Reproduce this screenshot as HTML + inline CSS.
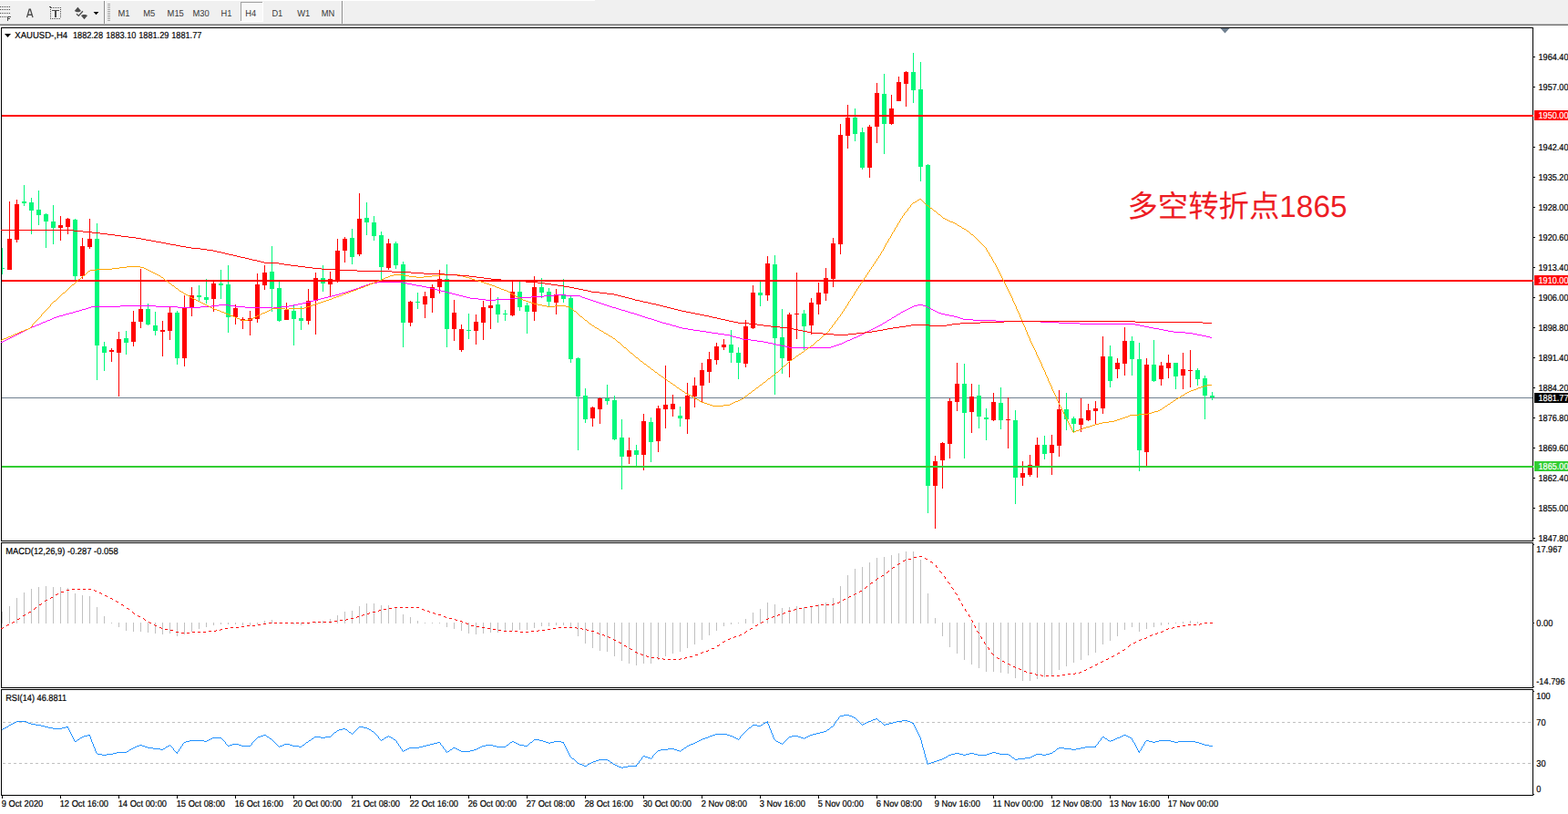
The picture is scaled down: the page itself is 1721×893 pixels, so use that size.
<!DOCTYPE html><html><head><meta charset="utf-8"><title>XAUUSD H4</title>
<style>html,body{margin:0;padding:0;background:#fff;overflow:hidden}svg{display:block}text{font-family:"Liberation Sans",sans-serif;text-rendering:geometricPrecision}</style></head><body>
<svg width="1721" height="893" viewBox="0 0 1721 893">
<rect width="1721" height="893" fill="#fff"/>
<g id="toolbar">
<rect x="0" y="0" width="1721" height="26" fill="#f0f0f0"/>
<rect x="0" y="0" width="653" height="1" fill="#ffffff"/>
<rect x="0" y="26" width="1721" height="1" fill="#b4b4b4"/>
<rect x="0" y="27" width="1721" height="1" fill="#6e6e6e"/>
<g shape-rendering="crispEdges">
<rect x="0" y="7" width="1" height="1" fill="#4d4d4d"/>
<rect x="2" y="7" width="1" height="1" fill="#4d4d4d"/>
<rect x="4" y="7" width="1" height="1" fill="#4d4d4d"/>
<rect x="6" y="7" width="1" height="1" fill="#4d4d4d"/>
<rect x="8" y="7" width="1" height="1" fill="#4d4d4d"/>
<rect x="10" y="7" width="1" height="1" fill="#4d4d4d"/>
<rect x="0" y="10" width="1" height="1" fill="#4d4d4d"/>
<rect x="2" y="10" width="1" height="1" fill="#4d4d4d"/>
<rect x="4" y="10" width="1" height="1" fill="#4d4d4d"/>
<rect x="6" y="10" width="1" height="1" fill="#4d4d4d"/>
<rect x="8" y="10" width="1" height="1" fill="#4d4d4d"/>
<rect x="10" y="10" width="1" height="1" fill="#4d4d4d"/>
<rect x="0" y="14" width="1" height="1" fill="#4d4d4d"/>
<rect x="2" y="14" width="1" height="1" fill="#4d4d4d"/>
<rect x="4" y="14" width="1" height="1" fill="#4d4d4d"/>
<rect x="6" y="14" width="1" height="1" fill="#4d4d4d"/>
<rect x="8" y="14" width="1" height="1" fill="#4d4d4d"/>
<rect x="10" y="14" width="1" height="1" fill="#4d4d4d"/>
<rect x="0" y="18" width="1" height="1" fill="#4d4d4d"/>
<rect x="2" y="18" width="1" height="1" fill="#4d4d4d"/>
<rect x="4" y="18" width="1" height="1" fill="#4d4d4d"/>
<rect x="6" y="18" width="1" height="1" fill="#4d4d4d"/>
<path d="M8 18h4v1h-3v1h2v1h-2v2h-1z" fill="#4d4d4d"/>
<rect x="58" y="8" width="1" height="1" fill="#4d4d4d"/>
<rect x="60" y="8" width="1" height="1" fill="#4d4d4d"/>
<rect x="62" y="8" width="1" height="1" fill="#4d4d4d"/>
<rect x="64" y="8" width="1" height="1" fill="#4d4d4d"/>
<rect x="66" y="8" width="1" height="1" fill="#4d4d4d"/>
<rect x="55" y="20" width="1" height="1" fill="#4d4d4d"/>
<rect x="57" y="20" width="1" height="1" fill="#4d4d4d"/>
<rect x="59" y="20" width="1" height="1" fill="#4d4d4d"/>
<rect x="61" y="20" width="1" height="1" fill="#4d4d4d"/>
<rect x="63" y="20" width="1" height="1" fill="#4d4d4d"/>
<rect x="65" y="20" width="1" height="1" fill="#4d4d4d"/>
<rect x="55" y="10" width="1" height="1" fill="#4d4d4d"/>
<rect x="66" y="10" width="1" height="1" fill="#4d4d4d"/>
<rect x="55" y="12" width="1" height="1" fill="#4d4d4d"/>
<rect x="66" y="12" width="1" height="1" fill="#4d4d4d"/>
<rect x="55" y="14" width="1" height="1" fill="#4d4d4d"/>
<rect x="66" y="14" width="1" height="1" fill="#4d4d4d"/>
<rect x="55" y="16" width="1" height="1" fill="#4d4d4d"/>
<rect x="66" y="16" width="1" height="1" fill="#4d4d4d"/>
<rect x="55" y="18" width="1" height="1" fill="#4d4d4d"/>
<rect x="66" y="18" width="1" height="1" fill="#4d4d4d"/>
<rect x="54" y="7" width="2" height="1" fill="#4d4d4d"/>
<rect x="55" y="8" width="2" height="1" fill="#4d4d4d"/>
<path d="M57 11h8v1h-3v7h-2v-7h-3z" fill="#4d4d4d"/>
<rect x="118" y="4" width="3" height="1" fill="#a6a6a6"/>
<rect x="118" y="6" width="3" height="1" fill="#a6a6a6"/>
<rect x="118" y="8" width="3" height="1" fill="#a6a6a6"/>
<rect x="118" y="10" width="3" height="1" fill="#a6a6a6"/>
<rect x="118" y="12" width="3" height="1" fill="#a6a6a6"/>
<rect x="118" y="14" width="3" height="1" fill="#a6a6a6"/>
<rect x="118" y="16" width="3" height="1" fill="#a6a6a6"/>
<rect x="118" y="18" width="3" height="1" fill="#a6a6a6"/>
<rect x="118" y="20" width="3" height="1" fill="#a6a6a6"/>
<rect x="118" y="22" width="3" height="1" fill="#a6a6a6"/>
<rect x="114" y="1" width="1" height="25" fill="#8e8e8e"/>
<rect x="115" y="1" width="1" height="25" fill="#fafafa"/>
<rect x="375" y="1" width="1" height="25" fill="#8e8e8e"/>
<rect x="376" y="1" width="1" height="25" fill="#fafafa"/>
<rect x="264" y="2" width="25" height="22" fill="#f8f8f8"/>
<rect x="264" y="2" width="25" height="1" fill="#a0a0a0"/>
<rect x="264" y="2" width="1" height="22" fill="#a0a0a0"/>
<rect x="264" y="23" width="25" height="1" fill="#ffffff"/>
<rect x="288" y="2" width="1" height="22" fill="#ffffff"/>
</g>
<path d="M29.5 19.1L32.2 10.2h1.1L36 19.1M30.7 16.2H34.8" fill="none" stroke="#4d4d4d" stroke-width="1.35" stroke-linejoin="miter"/>
<path d="M85.4 7.8L89 12 86.8 13.2h-2.8L81.8 12z" fill="#4d4d4d"/>
<path d="M92.5 21.2L96.1 17 93.9 15.9h-2.8L88.9 17z" fill="#4d4d4d"/>
<path d="M84 15.3L86.3 17.4 90.9 12.2" fill="none" stroke="#4d4d4d" stroke-width="1.3"/>
<path d="M102.6 13h5.8l-2.9 3.2z" fill="#000"/>
<g>
<text x="129.4" y="18" font-size="10.2" textLength="13.0" lengthAdjust="spacingAndGlyphs" fill="#383838" >M1</text>
<text x="157.2" y="18" font-size="10.2" textLength="13.0" lengthAdjust="spacingAndGlyphs" fill="#383838" >M5</text>
<text x="183.6" y="18" font-size="10.2" textLength="18.2" lengthAdjust="spacingAndGlyphs" fill="#383838" >M15</text>
<text x="211.5" y="18" font-size="10.2" textLength="18.2" lengthAdjust="spacingAndGlyphs" fill="#383838" >M30</text>
<text x="242.6" y="18" font-size="10.2" textLength="11.9" lengthAdjust="spacingAndGlyphs" fill="#383838" >H1</text>
<text x="269.3" y="18" font-size="10.2" textLength="11.9" lengthAdjust="spacingAndGlyphs" fill="#383838" >H4</text>
<text x="298.4" y="18" font-size="10.2" textLength="11.9" lengthAdjust="spacingAndGlyphs" fill="#383838" >D1</text>
<text x="326.2" y="18" font-size="10.2" textLength="14.0" lengthAdjust="spacingAndGlyphs" fill="#383838" >W1</text>
<text x="352.7" y="18" font-size="10.2" textLength="14.5" lengthAdjust="spacingAndGlyphs" fill="#383838" >MN</text>
</g>
</g>
<g id="frames" shape-rendering="crispEdges" fill="#000">
<rect x="1" y="30" width="1682" height="1"/>
<rect x="1" y="30" width="1" height="843"/>
<rect x="1682" y="30" width="1" height="843"/>
<rect x="1" y="593" width="1682" height="1"/>
<rect x="1" y="595" width="1682" height="1"/>
<rect x="1" y="754" width="1682" height="1"/>
<rect x="1" y="756" width="1682" height="1"/>
<rect x="1" y="872" width="1682" height="1"/>
<rect x="1" y="594" width="1683" height="1" fill="#fff"/>
<rect x="1" y="755" width="1683" height="1" fill="#fff"/>
</g>
<g id="main">
<rect x="2" y="436" width="1680" height="1" fill="#708090" shape-rendering="crispEdges"/>
<g shape-rendering="crispEdges">
<rect x="2" y="272" width="1" height="29" fill="#00f87a"/>
<rect x="2" y="294" width="3" height="1" fill="#00f87a"/>
<rect x="10" y="221" width="1" height="75" fill="#ff0000"/>
<rect x="8" y="262" width="5" height="34" fill="#ff0000"/>
<rect x="18" y="219" width="1" height="47" fill="#ff0000"/>
<rect x="16" y="224" width="5" height="39" fill="#ff0000"/>
<rect x="26" y="203" width="1" height="23" fill="#00f87a"/>
<rect x="24" y="221" width="5" height="2" fill="#00f87a"/>
<rect x="34" y="217" width="1" height="40" fill="#00f87a"/>
<rect x="32" y="222" width="5" height="9" fill="#00f87a"/>
<rect x="42" y="209" width="1" height="38" fill="#00f87a"/>
<rect x="40" y="230" width="5" height="6" fill="#00f87a"/>
<rect x="50" y="234" width="1" height="38" fill="#00f87a"/>
<rect x="48" y="235" width="5" height="8" fill="#00f87a"/>
<rect x="58" y="225" width="1" height="43" fill="#00f87a"/>
<rect x="56" y="243" width="5" height="7" fill="#00f87a"/>
<rect x="66" y="237" width="1" height="27" fill="#ff0000"/>
<rect x="64" y="247" width="5" height="3" fill="#ff0000"/>
<rect x="74" y="239" width="1" height="18" fill="#ff0000"/>
<rect x="72" y="240" width="5" height="9" fill="#ff0000"/>
<rect x="82" y="240" width="1" height="67" fill="#00f87a"/>
<rect x="80" y="241" width="5" height="62" fill="#00f87a"/>
<rect x="90" y="261" width="1" height="45" fill="#ff0000"/>
<rect x="88" y="270" width="5" height="33" fill="#ff0000"/>
<rect x="98" y="240" width="1" height="33" fill="#ff0000"/>
<rect x="96" y="262" width="5" height="9" fill="#ff0000"/>
<rect x="106" y="245" width="1" height="172" fill="#00f87a"/>
<rect x="104" y="262" width="5" height="117" fill="#00f87a"/>
<rect x="114" y="375" width="1" height="32" fill="#00f87a"/>
<rect x="112" y="380" width="5" height="7" fill="#00f87a"/>
<rect x="122" y="382" width="1" height="15" fill="#ff0000"/>
<rect x="120" y="384" width="5" height="2" fill="#ff0000"/>
<rect x="130" y="364" width="1" height="71" fill="#ff0000"/>
<rect x="128" y="372" width="5" height="15" fill="#ff0000"/>
<rect x="138" y="363" width="1" height="26" fill="#00f87a"/>
<rect x="136" y="371" width="5" height="5" fill="#00f87a"/>
<rect x="146" y="341" width="1" height="39" fill="#ff0000"/>
<rect x="144" y="353" width="5" height="22" fill="#ff0000"/>
<rect x="154" y="295" width="1" height="65" fill="#ff0000"/>
<rect x="152" y="339" width="5" height="14" fill="#ff0000"/>
<rect x="162" y="333" width="1" height="24" fill="#00f87a"/>
<rect x="160" y="339" width="5" height="17" fill="#00f87a"/>
<rect x="170" y="342" width="1" height="26" fill="#00f87a"/>
<rect x="168" y="357" width="5" height="6" fill="#00f87a"/>
<rect x="178" y="352" width="1" height="39" fill="#ff0000"/>
<rect x="176" y="362" width="5" height="2" fill="#ff0000"/>
<rect x="186" y="337" width="1" height="36" fill="#ff0000"/>
<rect x="184" y="343" width="5" height="20" fill="#ff0000"/>
<rect x="194" y="341" width="1" height="59" fill="#00f87a"/>
<rect x="192" y="343" width="5" height="50" fill="#00f87a"/>
<rect x="202" y="324" width="1" height="78" fill="#ff0000"/>
<rect x="200" y="338" width="5" height="55" fill="#ff0000"/>
<rect x="210" y="315" width="1" height="32" fill="#ff0000"/>
<rect x="208" y="324" width="5" height="13" fill="#ff0000"/>
<rect x="218" y="313" width="1" height="17" fill="#00f87a"/>
<rect x="216" y="324" width="5" height="2" fill="#00f87a"/>
<rect x="226" y="306" width="1" height="27" fill="#00f87a"/>
<rect x="224" y="326" width="5" height="3" fill="#00f87a"/>
<rect x="234" y="309" width="1" height="33" fill="#ff0000"/>
<rect x="232" y="311" width="5" height="17" fill="#ff0000"/>
<rect x="242" y="296" width="1" height="32" fill="#00f87a"/>
<rect x="240" y="311" width="5" height="2" fill="#00f87a"/>
<rect x="250" y="291" width="1" height="74" fill="#00f87a"/>
<rect x="248" y="312" width="5" height="36" fill="#00f87a"/>
<rect x="258" y="334" width="1" height="22" fill="#ff0000"/>
<rect x="256" y="338" width="5" height="10" fill="#ff0000"/>
<rect x="266" y="348" width="1" height="13" fill="#ff0000"/>
<rect x="264" y="350" width="5" height="2" fill="#ff0000"/>
<rect x="274" y="341" width="1" height="27" fill="#ff0000"/>
<rect x="272" y="349" width="5" height="3" fill="#ff0000"/>
<rect x="282" y="300" width="1" height="54" fill="#ff0000"/>
<rect x="280" y="312" width="5" height="38" fill="#ff0000"/>
<rect x="290" y="291" width="1" height="27" fill="#ff0000"/>
<rect x="288" y="299" width="5" height="14" fill="#ff0000"/>
<rect x="298" y="270" width="1" height="72" fill="#00f87a"/>
<rect x="296" y="298" width="5" height="19" fill="#00f87a"/>
<rect x="306" y="309" width="1" height="44" fill="#00f87a"/>
<rect x="304" y="316" width="5" height="36" fill="#00f87a"/>
<rect x="314" y="332" width="1" height="19" fill="#ff0000"/>
<rect x="312" y="340" width="5" height="11" fill="#ff0000"/>
<rect x="322" y="335" width="1" height="44" fill="#00f87a"/>
<rect x="320" y="341" width="5" height="9" fill="#00f87a"/>
<rect x="330" y="336" width="1" height="26" fill="#00f87a"/>
<rect x="328" y="349" width="5" height="3" fill="#00f87a"/>
<rect x="338" y="317" width="1" height="39" fill="#ff0000"/>
<rect x="336" y="330" width="5" height="22" fill="#ff0000"/>
<rect x="346" y="299" width="1" height="68" fill="#ff0000"/>
<rect x="344" y="305" width="5" height="25" fill="#ff0000"/>
<rect x="354" y="291" width="1" height="29" fill="#00f87a"/>
<rect x="352" y="305" width="5" height="6" fill="#00f87a"/>
<rect x="362" y="298" width="1" height="27" fill="#ff0000"/>
<rect x="360" y="306" width="5" height="6" fill="#ff0000"/>
<rect x="370" y="262" width="1" height="48" fill="#ff0000"/>
<rect x="368" y="275" width="5" height="34" fill="#ff0000"/>
<rect x="378" y="260" width="1" height="28" fill="#ff0000"/>
<rect x="376" y="262" width="5" height="13" fill="#ff0000"/>
<rect x="386" y="251" width="1" height="39" fill="#00f87a"/>
<rect x="384" y="261" width="5" height="21" fill="#00f87a"/>
<rect x="394" y="212" width="1" height="69" fill="#ff0000"/>
<rect x="392" y="240" width="5" height="39" fill="#ff0000"/>
<rect x="402" y="222" width="1" height="36" fill="#00f87a"/>
<rect x="400" y="239" width="5" height="5" fill="#00f87a"/>
<rect x="410" y="237" width="1" height="27" fill="#00f87a"/>
<rect x="408" y="244" width="5" height="15" fill="#00f87a"/>
<rect x="418" y="254" width="1" height="54" fill="#00f87a"/>
<rect x="416" y="258" width="5" height="35" fill="#00f87a"/>
<rect x="426" y="262" width="1" height="34" fill="#ff0000"/>
<rect x="424" y="267" width="5" height="27" fill="#ff0000"/>
<rect x="434" y="265" width="1" height="30" fill="#00f87a"/>
<rect x="432" y="267" width="5" height="24" fill="#00f87a"/>
<rect x="442" y="287" width="1" height="94" fill="#00f87a"/>
<rect x="440" y="290" width="5" height="64" fill="#00f87a"/>
<rect x="450" y="330" width="1" height="28" fill="#ff0000"/>
<rect x="448" y="331" width="5" height="23" fill="#ff0000"/>
<rect x="458" y="321" width="1" height="18" fill="#00f87a"/>
<rect x="456" y="331" width="5" height="1" fill="#00f87a"/>
<rect x="466" y="320" width="1" height="29" fill="#ff0000"/>
<rect x="464" y="325" width="5" height="9" fill="#ff0000"/>
<rect x="474" y="312" width="1" height="31" fill="#ff0000"/>
<rect x="472" y="315" width="5" height="12" fill="#ff0000"/>
<rect x="482" y="296" width="1" height="26" fill="#ff0000"/>
<rect x="480" y="306" width="5" height="9" fill="#ff0000"/>
<rect x="490" y="290" width="1" height="91" fill="#00f87a"/>
<rect x="488" y="306" width="5" height="55" fill="#00f87a"/>
<rect x="498" y="329" width="1" height="45" fill="#ff0000"/>
<rect x="496" y="343" width="5" height="18" fill="#ff0000"/>
<rect x="506" y="356" width="1" height="30" fill="#ff0000"/>
<rect x="504" y="361" width="5" height="23" fill="#ff0000"/>
<rect x="514" y="344" width="1" height="28" fill="#00f87a"/>
<rect x="512" y="362" width="5" height="1" fill="#00f87a"/>
<rect x="522" y="345" width="1" height="33" fill="#ff0000"/>
<rect x="520" y="353" width="5" height="10" fill="#ff0000"/>
<rect x="530" y="330" width="1" height="43" fill="#ff0000"/>
<rect x="528" y="337" width="5" height="17" fill="#ff0000"/>
<rect x="538" y="316" width="1" height="45" fill="#ff0000"/>
<rect x="536" y="335" width="5" height="3" fill="#ff0000"/>
<rect x="546" y="326" width="1" height="28" fill="#00f87a"/>
<rect x="544" y="334" width="5" height="11" fill="#00f87a"/>
<rect x="554" y="340" width="1" height="12" fill="#00f87a"/>
<rect x="552" y="344" width="5" height="1" fill="#00f87a"/>
<rect x="562" y="308" width="1" height="39" fill="#ff0000"/>
<rect x="560" y="320" width="5" height="26" fill="#ff0000"/>
<rect x="570" y="309" width="1" height="32" fill="#00f87a"/>
<rect x="568" y="320" width="5" height="17" fill="#00f87a"/>
<rect x="578" y="332" width="1" height="34" fill="#00f87a"/>
<rect x="576" y="335" width="5" height="7" fill="#00f87a"/>
<rect x="586" y="303" width="1" height="49" fill="#ff0000"/>
<rect x="584" y="315" width="5" height="27" fill="#ff0000"/>
<rect x="594" y="305" width="1" height="22" fill="#00f87a"/>
<rect x="592" y="315" width="5" height="6" fill="#00f87a"/>
<rect x="602" y="316" width="1" height="21" fill="#00f87a"/>
<rect x="600" y="320" width="5" height="11" fill="#00f87a"/>
<rect x="610" y="317" width="1" height="28" fill="#ff0000"/>
<rect x="608" y="323" width="5" height="9" fill="#ff0000"/>
<rect x="618" y="306" width="1" height="26" fill="#00f87a"/>
<rect x="616" y="323" width="5" height="5" fill="#00f87a"/>
<rect x="626" y="325" width="1" height="73" fill="#00f87a"/>
<rect x="624" y="327" width="5" height="67" fill="#00f87a"/>
<rect x="634" y="392" width="1" height="102" fill="#00f87a"/>
<rect x="632" y="393" width="5" height="42" fill="#00f87a"/>
<rect x="642" y="426" width="1" height="38" fill="#00f87a"/>
<rect x="640" y="434" width="5" height="26" fill="#00f87a"/>
<rect x="650" y="446" width="1" height="22" fill="#ff0000"/>
<rect x="648" y="447" width="5" height="12" fill="#ff0000"/>
<rect x="658" y="436" width="1" height="29" fill="#ff0000"/>
<rect x="656" y="437" width="5" height="12" fill="#ff0000"/>
<rect x="666" y="422" width="1" height="22" fill="#00f87a"/>
<rect x="664" y="437" width="5" height="3" fill="#00f87a"/>
<rect x="674" y="434" width="1" height="49" fill="#00f87a"/>
<rect x="672" y="439" width="5" height="43" fill="#00f87a"/>
<rect x="682" y="460" width="1" height="77" fill="#00f87a"/>
<rect x="680" y="480" width="5" height="21" fill="#00f87a"/>
<rect x="690" y="480" width="1" height="29" fill="#ff0000"/>
<rect x="688" y="494" width="5" height="7" fill="#ff0000"/>
<rect x="698" y="488" width="1" height="23" fill="#00f87a"/>
<rect x="696" y="494" width="5" height="5" fill="#00f87a"/>
<rect x="706" y="454" width="1" height="62" fill="#ff0000"/>
<rect x="704" y="462" width="5" height="37" fill="#ff0000"/>
<rect x="714" y="458" width="1" height="49" fill="#00f87a"/>
<rect x="712" y="463" width="5" height="22" fill="#00f87a"/>
<rect x="722" y="445" width="1" height="51" fill="#ff0000"/>
<rect x="720" y="448" width="5" height="36" fill="#ff0000"/>
<rect x="730" y="401" width="1" height="69" fill="#ff0000"/>
<rect x="728" y="444" width="5" height="5" fill="#ff0000"/>
<rect x="738" y="433" width="1" height="24" fill="#ff0000"/>
<rect x="736" y="443" width="5" height="6" fill="#ff0000"/>
<rect x="746" y="446" width="1" height="22" fill="#00f87a"/>
<rect x="744" y="456" width="5" height="3" fill="#00f87a"/>
<rect x="754" y="420" width="1" height="56" fill="#ff0000"/>
<rect x="752" y="434" width="5" height="26" fill="#ff0000"/>
<rect x="762" y="414" width="1" height="33" fill="#ff0000"/>
<rect x="760" y="423" width="5" height="12" fill="#ff0000"/>
<rect x="770" y="398" width="1" height="44" fill="#ff0000"/>
<rect x="768" y="406" width="5" height="17" fill="#ff0000"/>
<rect x="778" y="386" width="1" height="34" fill="#ff0000"/>
<rect x="776" y="394" width="5" height="14" fill="#ff0000"/>
<rect x="786" y="376" width="1" height="24" fill="#ff0000"/>
<rect x="784" y="380" width="5" height="15" fill="#ff0000"/>
<rect x="794" y="372" width="1" height="12" fill="#ff0000"/>
<rect x="792" y="378" width="5" height="3" fill="#ff0000"/>
<rect x="802" y="362" width="1" height="36" fill="#00f87a"/>
<rect x="800" y="378" width="5" height="9" fill="#00f87a"/>
<rect x="810" y="381" width="1" height="35" fill="#00f87a"/>
<rect x="808" y="387" width="5" height="11" fill="#00f87a"/>
<rect x="818" y="351" width="1" height="52" fill="#ff0000"/>
<rect x="816" y="358" width="5" height="41" fill="#ff0000"/>
<rect x="826" y="313" width="1" height="48" fill="#ff0000"/>
<rect x="824" y="321" width="5" height="39" fill="#ff0000"/>
<rect x="834" y="309" width="1" height="27" fill="#00f87a"/>
<rect x="832" y="321" width="5" height="3" fill="#00f87a"/>
<rect x="842" y="281" width="1" height="49" fill="#ff0000"/>
<rect x="840" y="289" width="5" height="35" fill="#ff0000"/>
<rect x="850" y="280" width="1" height="153" fill="#00f87a"/>
<rect x="848" y="290" width="5" height="81" fill="#00f87a"/>
<rect x="858" y="339" width="1" height="71" fill="#00f87a"/>
<rect x="856" y="370" width="5" height="23" fill="#00f87a"/>
<rect x="866" y="343" width="1" height="71" fill="#ff0000"/>
<rect x="864" y="345" width="5" height="51" fill="#ff0000"/>
<rect x="874" y="299" width="1" height="73" fill="#ff0000"/>
<rect x="872" y="344" width="5" height="1" fill="#ff0000"/>
<rect x="882" y="340" width="1" height="44" fill="#00f87a"/>
<rect x="880" y="344" width="5" height="14" fill="#00f87a"/>
<rect x="890" y="327" width="1" height="40" fill="#ff0000"/>
<rect x="888" y="332" width="5" height="25" fill="#ff0000"/>
<rect x="898" y="310" width="1" height="35" fill="#ff0000"/>
<rect x="896" y="321" width="5" height="13" fill="#ff0000"/>
<rect x="906" y="294" width="1" height="36" fill="#ff0000"/>
<rect x="904" y="305" width="5" height="17" fill="#ff0000"/>
<rect x="914" y="261" width="1" height="54" fill="#ff0000"/>
<rect x="912" y="267" width="5" height="39" fill="#ff0000"/>
<rect x="922" y="136" width="1" height="143" fill="#ff0000"/>
<rect x="920" y="148" width="5" height="120" fill="#ff0000"/>
<rect x="930" y="115" width="1" height="48" fill="#ff0000"/>
<rect x="928" y="129" width="5" height="20" fill="#ff0000"/>
<rect x="938" y="119" width="1" height="36" fill="#00f87a"/>
<rect x="936" y="129" width="5" height="18" fill="#00f87a"/>
<rect x="946" y="140" width="1" height="46" fill="#00f87a"/>
<rect x="944" y="145" width="5" height="39" fill="#00f87a"/>
<rect x="954" y="137" width="1" height="58" fill="#ff0000"/>
<rect x="952" y="139" width="5" height="45" fill="#ff0000"/>
<rect x="962" y="91" width="1" height="66" fill="#ff0000"/>
<rect x="960" y="102" width="5" height="37" fill="#ff0000"/>
<rect x="970" y="81" width="1" height="88" fill="#00f87a"/>
<rect x="968" y="103" width="5" height="33" fill="#00f87a"/>
<rect x="978" y="104" width="1" height="33" fill="#ff0000"/>
<rect x="976" y="119" width="5" height="17" fill="#ff0000"/>
<rect x="986" y="84" width="1" height="27" fill="#ff0000"/>
<rect x="984" y="90" width="5" height="21" fill="#ff0000"/>
<rect x="994" y="78" width="1" height="39" fill="#ff0000"/>
<rect x="992" y="79" width="5" height="13" fill="#ff0000"/>
<rect x="1002" y="58" width="1" height="55" fill="#00f87a"/>
<rect x="1000" y="79" width="5" height="20" fill="#00f87a"/>
<rect x="1010" y="68" width="1" height="131" fill="#00f87a"/>
<rect x="1008" y="98" width="5" height="85" fill="#00f87a"/>
<rect x="1018" y="180" width="1" height="383" fill="#00f87a"/>
<rect x="1016" y="181" width="5" height="352" fill="#00f87a"/>
<rect x="1026" y="500" width="1" height="80" fill="#ff0000"/>
<rect x="1024" y="506" width="5" height="27" fill="#ff0000"/>
<rect x="1034" y="485" width="1" height="51" fill="#ff0000"/>
<rect x="1032" y="486" width="5" height="19" fill="#ff0000"/>
<rect x="1042" y="437" width="1" height="66" fill="#ff0000"/>
<rect x="1040" y="440" width="5" height="47" fill="#ff0000"/>
<rect x="1050" y="398" width="1" height="53" fill="#ff0000"/>
<rect x="1048" y="421" width="5" height="20" fill="#ff0000"/>
<rect x="1058" y="399" width="1" height="104" fill="#00f87a"/>
<rect x="1056" y="421" width="5" height="32" fill="#00f87a"/>
<rect x="1066" y="421" width="1" height="54" fill="#ff0000"/>
<rect x="1064" y="435" width="5" height="17" fill="#ff0000"/>
<rect x="1074" y="422" width="1" height="48" fill="#00f87a"/>
<rect x="1072" y="434" width="5" height="23" fill="#00f87a"/>
<rect x="1082" y="448" width="1" height="35" fill="#00f87a"/>
<rect x="1080" y="458" width="5" height="2" fill="#00f87a"/>
<rect x="1090" y="431" width="1" height="31" fill="#ff0000"/>
<rect x="1088" y="441" width="5" height="20" fill="#ff0000"/>
<rect x="1098" y="425" width="1" height="46" fill="#00f87a"/>
<rect x="1096" y="442" width="5" height="19" fill="#00f87a"/>
<rect x="1106" y="436" width="1" height="56" fill="#ff0000"/>
<rect x="1104" y="460" width="5" height="1" fill="#ff0000"/>
<rect x="1114" y="450" width="1" height="103" fill="#00f87a"/>
<rect x="1112" y="461" width="5" height="63" fill="#00f87a"/>
<rect x="1122" y="506" width="1" height="27" fill="#ff0000"/>
<rect x="1120" y="519" width="5" height="5" fill="#ff0000"/>
<rect x="1130" y="499" width="1" height="24" fill="#ff0000"/>
<rect x="1128" y="510" width="5" height="11" fill="#ff0000"/>
<rect x="1138" y="480" width="1" height="44" fill="#ff0000"/>
<rect x="1136" y="488" width="5" height="23" fill="#ff0000"/>
<rect x="1146" y="478" width="1" height="26" fill="#00f87a"/>
<rect x="1144" y="488" width="5" height="10" fill="#00f87a"/>
<rect x="1154" y="477" width="1" height="44" fill="#ff0000"/>
<rect x="1152" y="488" width="5" height="9" fill="#ff0000"/>
<rect x="1162" y="428" width="1" height="73" fill="#ff0000"/>
<rect x="1160" y="449" width="5" height="40" fill="#ff0000"/>
<rect x="1170" y="431" width="1" height="41" fill="#00f87a"/>
<rect x="1168" y="449" width="5" height="11" fill="#00f87a"/>
<rect x="1178" y="457" width="1" height="17" fill="#00f87a"/>
<rect x="1176" y="459" width="5" height="6" fill="#00f87a"/>
<rect x="1186" y="437" width="1" height="37" fill="#ff0000"/>
<rect x="1184" y="459" width="5" height="7" fill="#ff0000"/>
<rect x="1194" y="443" width="1" height="19" fill="#ff0000"/>
<rect x="1192" y="450" width="5" height="11" fill="#ff0000"/>
<rect x="1202" y="440" width="1" height="25" fill="#ff0000"/>
<rect x="1200" y="448" width="5" height="3" fill="#ff0000"/>
<rect x="1210" y="369" width="1" height="85" fill="#ff0000"/>
<rect x="1208" y="391" width="5" height="57" fill="#ff0000"/>
<rect x="1218" y="379" width="1" height="46" fill="#00f87a"/>
<rect x="1216" y="391" width="5" height="27" fill="#00f87a"/>
<rect x="1226" y="393" width="1" height="22" fill="#ff0000"/>
<rect x="1224" y="398" width="5" height="7" fill="#ff0000"/>
<rect x="1234" y="359" width="1" height="53" fill="#ff0000"/>
<rect x="1232" y="374" width="5" height="25" fill="#ff0000"/>
<rect x="1242" y="369" width="1" height="43" fill="#00f87a"/>
<rect x="1240" y="374" width="5" height="20" fill="#00f87a"/>
<rect x="1250" y="376" width="1" height="141" fill="#00f87a"/>
<rect x="1248" y="394" width="5" height="100" fill="#00f87a"/>
<rect x="1258" y="393" width="1" height="118" fill="#ff0000"/>
<rect x="1256" y="400" width="5" height="96" fill="#ff0000"/>
<rect x="1266" y="373" width="1" height="46" fill="#00f87a"/>
<rect x="1264" y="400" width="5" height="18" fill="#00f87a"/>
<rect x="1274" y="397" width="1" height="26" fill="#ff0000"/>
<rect x="1272" y="401" width="5" height="15" fill="#ff0000"/>
<rect x="1282" y="389" width="1" height="26" fill="#ff0000"/>
<rect x="1280" y="398" width="5" height="6" fill="#ff0000"/>
<rect x="1290" y="398" width="1" height="29" fill="#00f87a"/>
<rect x="1288" y="398" width="5" height="15" fill="#00f87a"/>
<rect x="1298" y="387" width="1" height="40" fill="#ff0000"/>
<rect x="1296" y="405" width="5" height="7" fill="#ff0000"/>
<rect x="1306" y="384" width="1" height="41" fill="#ff0000"/>
<rect x="1304" y="406" width="5" height="1" fill="#ff0000"/>
<rect x="1314" y="404" width="1" height="19" fill="#00f87a"/>
<rect x="1312" y="406" width="5" height="10" fill="#00f87a"/>
<rect x="1322" y="412" width="1" height="48" fill="#00f87a"/>
<rect x="1320" y="415" width="5" height="19" fill="#00f87a"/>
<rect x="1330" y="430" width="1" height="9" fill="#00f87a"/>
<rect x="1328" y="434" width="5" height="2" fill="#00f87a"/>
</g>
<rect x="2" y="126" width="1681" height="2" fill="#ff0000" shape-rendering="crispEdges"/>
<rect x="2" y="307" width="1681" height="2" fill="#ff0000" shape-rendering="crispEdges"/>
<rect x="2" y="511" width="1681" height="2" fill="#32cd32" shape-rendering="crispEdges"/>
<path d="M414 309h28v1h-28zM408 310h6v1h-6zM442 310h5v1h-5zM405 311h3v1h-3zM447 311h5v1h-5zM402 312h3v1h-3zM452 312h5v1h-5zM399 313h3v1h-3zM457 313h6v1h-6zM396 314h3v1h-3zM463 314h5v1h-5zM394 315h2v1h-2zM468 315h4v1h-4zM391 316h3v1h-3zM472 316h4v1h-4zM388 317h3v1h-3zM476 317h4v1h-4zM385 318h3v1h-3zM480 318h4v1h-4zM382 319h3v1h-3zM484 319h4v1h-4zM379 320h3v1h-3zM488 320h4v1h-4zM375 321h4v1h-4zM492 321h4v1h-4zM372 322h3v1h-3zM496 322h4v1h-4zM368 323h4v1h-4zM500 323h4v1h-4zM609 323h12v1h-12zM364 324h4v1h-4zM504 324h4v1h-4zM597 324h12v1h-12zM621 324h16v1h-16zM360 325h4v1h-4zM508 325h4v1h-4zM583 325h14v1h-14zM637 325h2v1h-2zM356 326h4v1h-4zM512 326h4v1h-4zM569 326h14v1h-14zM639 326h3v1h-3zM352 327h4v1h-4zM516 327h9v1h-9zM560 327h9v1h-9zM642 327h3v1h-3zM348 328h4v1h-4zM525 328h8v1h-8zM544 328h16v1h-16zM645 328h3v1h-3zM344 329h4v1h-4zM533 329h11v1h-11zM648 329h3v1h-3zM340 330h4v1h-4zM651 330h3v1h-3zM336 331h4v1h-4zM654 331h3v1h-3zM332 332h4v1h-4zM657 332h3v1h-3zM327 333h5v1h-5zM660 333h3v1h-3zM240 334h11v1h-11zM322 334h5v1h-5zM663 334h3v1h-3zM1007 334h6v1h-6zM132 335h39v1h-39zM232 335h8v1h-8zM251 335h7v1h-7zM317 335h5v1h-5zM666 335h3v1h-3zM1003 335h4v1h-4zM1013 335h3v1h-3zM100 336h32v1h-32zM171 336h24v1h-24zM220 336h12v1h-12zM258 336h11v1h-11zM308 336h9v1h-9zM669 336h3v1h-3zM1001 336h2v1h-2zM1016 336h2v1h-2zM97 337h3v1h-3zM195 337h25v1h-25zM269 337h30v1h-30zM300 337h8v1h-8zM672 337h4v1h-4zM999 337h2v1h-2zM1018 337h2v1h-2zM94 338h3v1h-3zM299 338h1v1h-1zM676 338h3v1h-3zM997 338h2v1h-2zM1020 338h2v1h-2zM90 339h4v1h-4zM679 339h3v1h-3zM995 339h2v1h-2zM1022 339h2v1h-2zM87 340h3v1h-3zM682 340h4v1h-4zM993 340h2v1h-2zM1024 340h2v1h-2zM83 341h4v1h-4zM686 341h3v1h-3zM991 341h2v1h-2zM1026 341h2v1h-2zM80 342h3v1h-3zM689 342h3v1h-3zM989 342h2v1h-2zM1028 342h2v1h-2zM76 343h4v1h-4zM692 343h4v1h-4zM988 343h1v1h-1zM1030 343h3v1h-3zM72 344h4v1h-4zM696 344h3v1h-3zM986 344h2v1h-2zM1033 344h4v1h-4zM69 345h3v1h-3zM699 345h3v1h-3zM984 345h2v1h-2zM1037 345h5v1h-5zM65 346h4v1h-4zM702 346h3v1h-3zM983 346h1v1h-1zM1042 346h5v1h-5zM62 347h3v1h-3zM705 347h3v1h-3zM981 347h2v1h-2zM1047 347h4v1h-4zM59 348h3v1h-3zM708 348h3v1h-3zM979 348h2v1h-2zM1051 348h3v1h-3zM57 349h2v1h-2zM711 349h4v1h-4zM978 349h1v1h-1zM1054 349h3v1h-3zM55 350h2v1h-2zM715 350h3v1h-3zM976 350h2v1h-2zM1057 350h11v1h-11zM52 351h3v1h-3zM718 351h3v1h-3zM974 351h2v1h-2zM1068 351h25v1h-25zM50 352h2v1h-2zM721 352h3v1h-3zM973 352h1v1h-1zM1093 352h49v1h-49zM47 353h3v1h-3zM724 353h3v1h-3zM971 353h2v1h-2zM1142 353h20v1h-20zM45 354h2v1h-2zM727 354h4v1h-4zM969 354h2v1h-2zM1162 354h23v1h-23zM43 355h2v1h-2zM731 355h4v1h-4zM968 355h1v1h-1zM1185 355h61v1h-61zM40 356h3v1h-3zM735 356h3v1h-3zM966 356h2v1h-2zM1246 356h5v1h-5zM38 357h2v1h-2zM738 357h4v1h-4zM964 357h2v1h-2zM1251 357h5v1h-5zM35 358h3v1h-3zM742 358h3v1h-3zM962 358h2v1h-2zM1256 358h5v1h-5zM33 359h2v1h-2zM745 359h4v1h-4zM960 359h2v1h-2zM1261 359h5v1h-5zM31 360h2v1h-2zM749 360h6v1h-6zM958 360h2v1h-2zM1266 360h6v1h-6zM29 361h2v1h-2zM755 361h6v1h-6zM956 361h2v1h-2zM1272 361h5v1h-5zM27 362h2v1h-2zM761 362h7v1h-7zM954 362h2v1h-2zM1277 362h5v1h-5zM25 363h2v1h-2zM768 363h7v1h-7zM952 363h2v1h-2zM1282 363h6v1h-6zM23 364h2v1h-2zM775 364h6v1h-6zM950 364h2v1h-2zM1288 364h13v1h-13zM21 365h2v1h-2zM781 365h7v1h-7zM948 365h2v1h-2zM1301 365h8v1h-8zM19 366h2v1h-2zM788 366h7v1h-7zM946 366h2v1h-2zM1309 366h5v1h-5zM17 367h2v1h-2zM795 367h6v1h-6zM944 367h2v1h-2zM1314 367h5v1h-5zM15 368h2v1h-2zM801 368h3v1h-3zM942 368h2v1h-2zM1319 368h5v1h-5zM13 369h2v1h-2zM804 369h4v1h-4zM940 369h2v1h-2zM1324 369h4v1h-4zM11 370h2v1h-2zM808 370h4v1h-4zM937 370h3v1h-3zM1328 370h2v1h-2zM9 371h2v1h-2zM812 371h3v1h-3zM935 371h2v1h-2zM7 372h2v1h-2zM815 372h9v1h-9zM933 372h2v1h-2zM5 373h2v1h-2zM824 373h7v1h-7zM930 373h3v1h-3zM3 374h2v1h-2zM831 374h7v1h-7zM928 374h2v1h-2zM1 375h2v1h-2zM838 375h5v1h-5zM926 375h2v1h-2zM843 376h5v1h-5zM924 376h2v1h-2zM848 377h4v1h-4zM921 377h3v1h-3zM852 378h5v1h-5zM918 378h3v1h-3zM857 379h5v1h-5zM915 379h3v1h-3zM862 380h4v1h-4zM912 380h3v1h-3zM866 381h46v1h-46z" fill="#ff00ff" shape-rendering="crispEdges"/>
<path d="M1009 218h2v1h-2zM1007 219h2v1h-2zM1011 219h1v1h-1zM1006 220h1v1h-1zM1012 220h1v1h-1zM1004 221h2v1h-2zM1013 221h1v1h-1zM1002 222h2v1h-2zM1014 222h1v1h-1zM1001 223h1v1h-1zM1015 223h1v1h-1zM1000 224h1v1h-1zM1016 224h1v1h-1zM999 225h1v2h-1zM1017 225h2v1h-2zM1019 226h1v1h-1zM998 227h1v1h-1zM1020 227h1v1h-1zM997 228h1v1h-1zM1021 228h2v1h-2zM996 229h1v2h-1zM1023 229h1v1h-1zM1024 230h1v1h-1zM995 231h1v1h-1zM1025 231h2v1h-2zM994 232h1v1h-1zM1027 232h1v1h-1zM993 233h1v1h-1zM1028 233h1v1h-1zM992 234h1v2h-1zM1029 234h1v1h-1zM1030 235h2v1h-2zM991 236h1v1h-1zM1032 236h1v1h-1zM990 237h1v2h-1zM1033 237h1v1h-1zM1034 238h1v1h-1zM989 239h1v1h-1zM1035 239h2v1h-2zM988 240h1v2h-1zM1037 240h2v1h-2zM1039 241h2v1h-2zM987 242h1v2h-1zM1041 242h2v1h-2zM1043 243h3v1h-3zM986 244h1v1h-1zM1046 244h2v1h-2zM985 245h1v2h-1zM1048 245h2v1h-2zM1050 246h1v1h-1zM984 247h1v2h-1zM1051 247h2v1h-2zM1053 248h2v1h-2zM983 249h1v1h-1zM1055 249h1v1h-1zM982 250h1v2h-1zM1056 250h2v1h-2zM1058 251h2v1h-2zM981 252h1v2h-1zM1060 252h1v1h-1zM1061 253h2v1h-2zM980 254h1v1h-1zM1063 254h1v1h-1zM979 255h1v2h-1zM1064 255h1v1h-1zM1065 256h1v1h-1zM978 257h1v2h-1zM1066 257h2v1h-2zM1068 258h1v1h-1zM977 259h1v2h-1zM1069 259h1v1h-1zM1070 260h1v1h-1zM976 261h1v1h-1zM1071 261h1v1h-1zM975 262h1v2h-1zM1072 262h1v1h-1zM1073 263h1v1h-1zM974 264h1v2h-1zM1074 264h1v1h-1zM1075 265h1v1h-1zM973 266h1v1h-1zM1076 266h1v1h-1zM972 267h1v2h-1zM1077 267h1v1h-1zM1078 268h1v1h-1zM971 269h1v2h-1zM1079 269h1v1h-1zM1080 270h1v1h-1zM970 271h1v2h-1zM1081 271h1v1h-1zM1082 272h1v2h-1zM969 273h1v2h-1zM1083 274h1v2h-1zM968 275h1v1h-1zM967 276h1v2h-1zM1084 276h1v1h-1zM1085 277h1v2h-1zM966 278h1v2h-1zM1086 279h1v2h-1zM965 280h1v1h-1zM964 281h1v2h-1zM1087 281h1v1h-1zM1088 282h1v2h-1zM963 283h1v1h-1zM962 284h1v2h-1zM1089 284h1v2h-1zM961 286h1v1h-1zM1090 286h1v2h-1zM960 287h1v2h-1zM1091 288h1v1h-1zM959 289h1v1h-1zM1092 289h1v2h-1zM958 290h1v2h-1zM1093 291h1v2h-1zM139 292h15v1h-15zM957 292h1v1h-1zM131 293h8v1h-8zM154 293h4v1h-4zM956 293h1v2h-1zM1094 293h1v2h-1zM123 294h8v1h-8zM158 294h2v1h-2zM106 295h17v1h-17zM160 295h2v1h-2zM955 295h1v1h-1zM1095 295h1v2h-1zM99 296h7v1h-7zM162 296h2v1h-2zM954 296h1v2h-1zM97 297h2v1h-2zM164 297h2v1h-2zM1096 297h1v2h-1zM96 298h1v1h-1zM166 298h2v1h-2zM953 298h1v1h-1zM95 299h1v1h-1zM168 299h2v1h-2zM952 299h1v2h-1zM1097 299h1v2h-1zM94 300h1v1h-1zM170 300h2v1h-2zM93 301h1v1h-1zM172 301h2v1h-2zM432 301h11v1h-11zM483 301h22v1h-22zM951 301h1v1h-1zM1098 301h1v2h-1zM91 302h2v1h-2zM174 302h2v1h-2zM428 302h4v1h-4zM443 302h6v1h-6zM474 302h9v1h-9zM505 302h3v1h-3zM950 302h1v2h-1zM90 303h1v1h-1zM176 303h1v1h-1zM426 303h2v1h-2zM449 303h8v1h-8zM465 303h9v1h-9zM508 303h3v1h-3zM1099 303h1v2h-1zM89 304h1v1h-1zM177 304h2v1h-2zM423 304h3v1h-3zM457 304h8v1h-8zM511 304h4v1h-4zM949 304h1v1h-1zM88 305h1v1h-1zM179 305h1v1h-1zM421 305h2v1h-2zM515 305h3v1h-3zM948 305h1v2h-1zM1100 305h1v2h-1zM86 306h2v1h-2zM180 306h1v1h-1zM419 306h2v1h-2zM518 306h3v1h-3zM85 307h1v1h-1zM181 307h2v1h-2zM416 307h3v1h-3zM521 307h4v1h-4zM947 307h1v1h-1zM1101 307h1v2h-1zM84 308h1v1h-1zM183 308h1v1h-1zM414 308h2v1h-2zM525 308h3v1h-3zM946 308h1v2h-1zM83 309h1v1h-1zM184 309h1v1h-1zM411 309h3v1h-3zM528 309h3v1h-3zM1102 309h1v2h-1zM82 310h1v1h-1zM185 310h2v1h-2zM409 310h2v1h-2zM531 310h3v1h-3zM945 310h1v1h-1zM81 311h1v1h-1zM187 311h1v1h-1zM406 311h3v1h-3zM534 311h3v1h-3zM944 311h1v2h-1zM1103 311h1v2h-1zM79 312h2v1h-2zM188 312h1v1h-1zM404 312h2v1h-2zM537 312h3v1h-3zM78 313h1v1h-1zM189 313h2v1h-2zM401 313h3v1h-3zM540 313h3v1h-3zM943 313h1v1h-1zM1104 313h1v2h-1zM77 314h1v1h-1zM191 314h1v1h-1zM399 314h2v1h-2zM543 314h2v1h-2zM942 314h1v2h-1zM76 315h1v1h-1zM192 315h1v1h-1zM396 315h3v1h-3zM545 315h3v1h-3zM1105 315h1v2h-1zM75 316h1v1h-1zM193 316h2v1h-2zM393 316h3v1h-3zM548 316h2v1h-2zM941 316h1v1h-1zM74 317h1v1h-1zM195 317h1v1h-1zM391 317h2v1h-2zM550 317h3v1h-3zM940 317h1v2h-1zM1106 317h1v2h-1zM73 318h1v1h-1zM196 318h1v1h-1zM388 318h3v1h-3zM553 318h3v1h-3zM72 319h1v1h-1zM197 319h2v1h-2zM385 319h3v1h-3zM556 319h2v1h-2zM939 319h1v1h-1zM1107 319h1v2h-1zM71 320h1v1h-1zM199 320h2v1h-2zM383 320h2v1h-2zM558 320h2v1h-2zM938 320h1v2h-1zM69 321h2v1h-2zM201 321h1v1h-1zM380 321h3v1h-3zM560 321h1v1h-1zM1108 321h1v2h-1zM68 322h1v1h-1zM202 322h2v1h-2zM377 322h3v1h-3zM561 322h2v1h-2zM937 322h1v2h-1zM67 323h1v1h-1zM204 323h2v1h-2zM375 323h2v1h-2zM563 323h2v1h-2zM1109 323h1v2h-1zM66 324h1v1h-1zM206 324h2v1h-2zM372 324h3v1h-3zM565 324h1v1h-1zM936 324h1v1h-1zM65 325h1v1h-1zM208 325h1v1h-1zM369 325h3v1h-3zM566 325h2v1h-2zM935 325h1v2h-1zM1110 325h1v2h-1zM64 326h1v1h-1zM209 326h2v1h-2zM366 326h3v1h-3zM568 326h2v1h-2zM63 327h1v1h-1zM211 327h2v1h-2zM364 327h2v1h-2zM570 327h2v1h-2zM934 327h1v1h-1zM1111 327h1v3h-1zM62 328h1v1h-1zM213 328h2v1h-2zM361 328h3v1h-3zM572 328h2v1h-2zM933 328h1v2h-1zM61 329h1v1h-1zM215 329h2v1h-2zM358 329h3v1h-3zM574 329h3v1h-3zM59 330h2v1h-2zM217 330h2v1h-2zM355 330h3v1h-3zM577 330h3v1h-3zM932 330h1v1h-1zM1112 330h1v2h-1zM58 331h1v1h-1zM219 331h2v1h-2zM352 331h3v1h-3zM580 331h3v1h-3zM931 331h1v2h-1zM57 332h1v1h-1zM221 332h2v1h-2zM349 332h3v1h-3zM583 332h3v1h-3zM1113 332h1v2h-1zM56 333h1v1h-1zM223 333h2v1h-2zM346 333h3v1h-3zM586 333h4v1h-4zM930 333h1v2h-1zM55 334h1v2h-1zM225 334h2v1h-2zM343 334h3v1h-3zM590 334h5v1h-5zM1114 334h1v2h-1zM227 335h2v1h-2zM340 335h3v1h-3zM595 335h5v1h-5zM609 335h12v1h-12zM929 335h1v1h-1zM54 336h1v1h-1zM229 336h2v1h-2zM337 336h3v1h-3zM600 336h9v1h-9zM621 336h4v1h-4zM928 336h1v2h-1zM1115 336h1v3h-1zM53 337h1v1h-1zM231 337h2v1h-2zM334 337h3v1h-3zM625 337h1v1h-1zM52 338h1v1h-1zM233 338h2v1h-2zM299 338h14v1h-14zM317 338h17v1h-17zM626 338h2v1h-2zM927 338h1v1h-1zM51 339h1v1h-1zM235 339h3v1h-3zM297 339h2v1h-2zM313 339h4v1h-4zM628 339h1v1h-1zM926 339h1v2h-1zM1116 339h1v2h-1zM50 340h1v1h-1zM238 340h3v1h-3zM295 340h2v1h-2zM629 340h1v1h-1zM49 341h1v1h-1zM241 341h2v1h-2zM293 341h2v1h-2zM630 341h2v1h-2zM925 341h1v1h-1zM1117 341h1v2h-1zM48 342h1v1h-1zM243 342h3v1h-3zM291 342h2v1h-2zM632 342h1v1h-1zM924 342h1v2h-1zM47 343h1v1h-1zM246 343h2v1h-2zM288 343h3v1h-3zM633 343h1v1h-1zM1118 343h1v2h-1zM46 344h1v1h-1zM248 344h3v1h-3zM286 344h2v1h-2zM634 344h1v1h-1zM923 344h1v1h-1zM45 345h1v2h-1zM251 345h2v1h-2zM284 345h2v1h-2zM635 345h1v1h-1zM922 345h1v2h-1zM1119 345h1v3h-1zM253 346h3v1h-3zM282 346h2v1h-2zM636 346h1v1h-1zM44 347h1v1h-1zM256 347h2v1h-2zM280 347h2v1h-2zM637 347h2v1h-2zM921 347h1v1h-1zM43 348h1v1h-1zM258 348h2v1h-2zM278 348h2v1h-2zM639 348h1v1h-1zM920 348h1v1h-1zM1120 348h1v2h-1zM42 349h1v1h-1zM260 349h3v1h-3zM276 349h2v1h-2zM640 349h1v1h-1zM919 349h1v2h-1zM41 350h1v1h-1zM263 350h2v1h-2zM272 350h4v1h-4zM641 350h1v1h-1zM1121 350h1v2h-1zM40 351h1v1h-1zM265 351h7v1h-7zM642 351h2v1h-2zM918 351h1v1h-1zM39 352h1v1h-1zM644 352h1v1h-1zM917 352h1v1h-1zM1122 352h1v3h-1zM38 353h1v1h-1zM645 353h1v1h-1zM916 353h1v2h-1zM37 354h1v1h-1zM646 354h1v1h-1zM36 355h1v1h-1zM647 355h2v1h-2zM915 355h1v1h-1zM1123 355h1v2h-1zM35 356h1v2h-1zM649 356h1v1h-1zM914 356h1v1h-1zM650 357h2v1h-2zM913 357h1v2h-1zM1124 357h1v2h-1zM34 358h1v1h-1zM652 358h1v1h-1zM33 359h1v1h-1zM653 359h2v1h-2zM912 359h1v1h-1zM1125 359h1v3h-1zM31 360h2v1h-2zM655 360h2v1h-2zM911 360h1v1h-1zM28 361h3v1h-3zM657 361h1v1h-1zM910 361h1v2h-1zM26 362h2v1h-2zM658 362h2v1h-2zM1126 362h1v2h-1zM23 363h3v1h-3zM660 363h2v1h-2zM909 363h1v1h-1zM21 364h2v1h-2zM662 364h1v1h-1zM908 364h1v1h-1zM1127 364h1v3h-1zM19 365h2v1h-2zM663 365h2v1h-2zM907 365h1v1h-1zM16 366h3v1h-3zM665 366h2v1h-2zM906 366h1v1h-1zM14 367h2v1h-2zM667 367h1v1h-1zM904 367h2v1h-2zM1128 367h1v2h-1zM12 368h2v1h-2zM668 368h2v1h-2zM903 368h1v1h-1zM9 369h3v1h-3zM670 369h2v1h-2zM902 369h1v1h-1zM1129 369h1v2h-1zM7 370h2v1h-2zM672 370h1v1h-1zM901 370h1v1h-1zM4 371h3v1h-3zM673 371h2v1h-2zM900 371h1v1h-1zM1130 371h1v3h-1zM2 372h2v1h-2zM675 372h1v1h-1zM899 372h1v1h-1zM1 373h1v1h-1zM676 373h1v1h-1zM897 373h2v1h-2zM677 374h1v1h-1zM896 374h1v1h-1zM1131 374h1v2h-1zM678 375h2v1h-2zM895 375h1v1h-1zM680 376h1v1h-1zM894 376h1v1h-1zM1132 376h1v2h-1zM681 377h1v1h-1zM893 377h1v1h-1zM682 378h1v1h-1zM892 378h1v1h-1zM1133 378h1v2h-1zM683 379h1v1h-1zM890 379h2v1h-2zM684 380h1v1h-1zM889 380h1v1h-1zM1134 380h1v2h-1zM685 381h2v1h-2zM887 381h2v1h-2zM687 382h1v1h-1zM886 382h1v1h-1zM1135 382h1v2h-1zM688 383h1v1h-1zM884 383h2v1h-2zM689 384h1v1h-1zM883 384h1v1h-1zM1136 384h1v2h-1zM690 385h1v1h-1zM882 385h1v1h-1zM691 386h1v1h-1zM880 386h2v1h-2zM1137 386h1v3h-1zM692 387h2v1h-2zM879 387h1v1h-1zM694 388h1v1h-1zM877 388h2v1h-2zM695 389h1v1h-1zM876 389h1v1h-1zM1138 389h1v2h-1zM696 390h1v1h-1zM874 390h2v1h-2zM697 391h1v1h-1zM873 391h1v1h-1zM1139 391h1v2h-1zM698 392h2v1h-2zM872 392h1v1h-1zM700 393h1v1h-1zM870 393h2v1h-2zM1140 393h1v2h-1zM701 394h1v1h-1zM869 394h1v1h-1zM702 395h1v1h-1zM867 395h2v1h-2zM1141 395h1v2h-1zM703 396h2v1h-2zM866 396h1v1h-1zM705 397h1v1h-1zM865 397h1v1h-1zM1142 397h1v2h-1zM706 398h1v1h-1zM864 398h1v1h-1zM707 399h2v1h-2zM863 399h1v1h-1zM1143 399h1v3h-1zM709 400h1v1h-1zM862 400h1v1h-1zM710 401h1v1h-1zM860 401h2v1h-2zM711 402h2v1h-2zM859 402h1v1h-1zM1144 402h1v2h-1zM713 403h1v1h-1zM858 403h1v1h-1zM714 404h1v1h-1zM857 404h1v1h-1zM1145 404h1v2h-1zM715 405h2v1h-2zM856 405h1v1h-1zM717 406h1v1h-1zM855 406h1v1h-1zM1146 406h1v2h-1zM718 407h1v1h-1zM854 407h1v1h-1zM719 408h2v1h-2zM852 408h2v1h-2zM1147 408h1v3h-1zM721 409h1v1h-1zM851 409h1v1h-1zM722 410h1v1h-1zM850 410h1v1h-1zM723 411h2v1h-2zM849 411h1v1h-1zM1148 411h1v2h-1zM725 412h1v1h-1zM847 412h2v1h-2zM726 413h2v1h-2zM846 413h1v1h-1zM1149 413h1v2h-1zM728 414h1v1h-1zM845 414h1v1h-1zM729 415h2v1h-2zM843 415h2v1h-2zM1150 415h1v3h-1zM731 416h1v1h-1zM842 416h1v1h-1zM732 417h1v1h-1zM841 417h1v1h-1zM733 418h2v1h-2zM840 418h1v1h-1zM1151 418h1v2h-1zM735 419h1v1h-1zM838 419h2v1h-2zM736 420h2v1h-2zM837 420h1v1h-1zM1152 420h1v2h-1zM738 421h1v1h-1zM836 421h1v1h-1zM739 422h2v1h-2zM834 422h2v1h-2zM1153 422h1v2h-1zM1325 422h5v1h-5zM741 423h1v1h-1zM833 423h1v1h-1zM1321 423h4v1h-4zM742 424h1v1h-1zM832 424h1v1h-1zM1154 424h1v3h-1zM1318 424h3v1h-3zM743 425h2v1h-2zM830 425h2v1h-2zM1315 425h3v1h-3zM745 426h1v1h-1zM829 426h1v1h-1zM1313 426h2v1h-2zM746 427h2v1h-2zM828 427h1v1h-1zM1155 427h1v2h-1zM1310 427h3v1h-3zM748 428h1v1h-1zM826 428h2v1h-2zM1307 428h3v1h-3zM749 429h2v1h-2zM825 429h1v1h-1zM1156 429h1v2h-1zM1305 429h2v1h-2zM751 430h1v1h-1zM824 430h1v1h-1zM1303 430h2v1h-2zM752 431h2v1h-2zM822 431h2v1h-2zM1157 431h1v2h-1zM1301 431h2v1h-2zM754 432h2v1h-2zM821 432h1v1h-1zM1300 432h1v1h-1zM756 433h2v1h-2zM820 433h1v1h-1zM1158 433h1v2h-1zM1298 433h2v1h-2zM758 434h2v1h-2zM818 434h2v1h-2zM1296 434h2v1h-2zM760 435h1v1h-1zM817 435h1v1h-1zM1159 435h1v3h-1zM1295 435h1v1h-1zM761 436h2v1h-2zM816 436h1v1h-1zM1293 436h2v1h-2zM763 437h2v1h-2zM814 437h2v1h-2zM1291 437h2v1h-2zM765 438h2v1h-2zM812 438h2v1h-2zM1160 438h1v2h-1zM1290 438h1v1h-1zM767 439h1v1h-1zM810 439h2v1h-2zM1288 439h2v1h-2zM768 440h2v1h-2zM807 440h3v1h-3zM1161 440h1v2h-1zM1287 440h1v1h-1zM770 441h3v1h-3zM805 441h2v1h-2zM1285 441h2v1h-2zM773 442h3v1h-3zM803 442h2v1h-2zM1162 442h1v2h-1zM1284 442h1v1h-1zM776 443h3v1h-3zM801 443h2v1h-2zM1282 443h2v1h-2zM779 444h3v1h-3zM794 444h7v1h-7zM1163 444h1v2h-1zM1281 444h1v1h-1zM782 445h12v1h-12zM1279 445h2v1h-2zM1164 446h1v2h-1zM1278 446h1v1h-1zM1276 447h2v1h-2zM1165 448h1v2h-1zM1275 448h1v1h-1zM1273 449h2v1h-2zM1166 450h1v2h-1zM1271 450h2v1h-2zM1267 451h4v1h-4zM1167 452h1v2h-1zM1264 452h3v1h-3zM1260 453h4v1h-4zM1168 454h1v2h-1zM1250 454h10v1h-10zM1240 455h10v1h-10zM1169 456h1v2h-1zM1238 456h2v1h-2zM1235 457h3v1h-3zM1170 458h1v2h-1zM1232 458h3v1h-3zM1229 459h3v1h-3zM1171 460h1v2h-1zM1226 460h3v1h-3zM1223 461h3v1h-3zM1172 462h1v2h-1zM1217 462h6v1h-6zM1210 463h7v1h-7zM1173 464h1v2h-1zM1206 464h4v1h-4zM1202 465h4v1h-4zM1174 466h1v2h-1zM1199 466h3v1h-3zM1196 467h3v1h-3zM1175 468h1v2h-1zM1192 468h4v1h-4zM1189 469h3v1h-3zM1176 470h1v2h-1zM1187 470h2v1h-2zM1184 471h3v1h-3zM1177 472h1v2h-1zM1181 472h3v1h-3zM1179 473h2v1h-2zM1178 474h1v1h-1z" fill="#ffa500" shape-rendering="crispEdges"/>
<path d="M1 252h80v1h-80zM81 253h10v1h-10zM91 254h10v1h-10zM101 255h9v1h-9zM110 256h8v1h-8zM118 257h8v1h-8zM126 258h7v1h-7zM133 259h8v1h-8zM141 260h8v1h-8zM149 261h6v1h-6zM155 262h5v1h-5zM160 263h6v1h-6zM166 264h5v1h-5zM171 265h6v1h-6zM177 266h5v1h-5zM182 267h5v1h-5zM187 268h6v1h-6zM193 269h5v1h-5zM198 270h6v1h-6zM204 271h6v1h-6zM210 272h10v1h-10zM220 273h7v1h-7zM227 274h7v1h-7zM234 275h4v1h-4zM238 276h5v1h-5zM243 277h4v1h-4zM247 278h4v1h-4zM251 279h5v1h-5zM256 280h4v1h-4zM260 281h4v1h-4zM264 282h5v1h-5zM269 283h4v1h-4zM273 284h4v1h-4zM277 285h5v1h-5zM282 286h4v1h-4zM286 287h4v1h-4zM290 288h16v1h-16zM306 289h6v1h-6zM312 290h7v1h-7zM319 291h8v1h-8zM327 292h8v1h-8zM335 293h8v1h-8zM343 294h10v1h-10zM353 295h18v1h-18zM371 296h21v1h-21zM392 297h38v1h-38zM430 298h21v1h-21zM451 299h14v1h-14zM465 300h23v1h-23zM488 301h14v1h-14zM502 302h13v1h-13zM515 303h8v1h-8zM523 304h8v1h-8zM531 305h8v1h-8zM539 306h11v1h-11zM550 307h14v1h-14zM564 308h13v1h-13zM577 309h13v1h-13zM590 310h8v1h-8zM598 311h7v1h-7zM605 312h7v1h-7zM612 313h7v1h-7zM619 314h6v1h-6zM625 315h5v1h-5zM630 316h5v1h-5zM635 317h5v1h-5zM640 318h5v1h-5zM645 319h4v1h-4zM649 320h9v1h-9zM658 321h8v1h-8zM666 322h8v1h-8zM674 323h4v1h-4zM678 324h4v1h-4zM682 325h4v1h-4zM686 326h4v1h-4zM690 327h4v1h-4zM694 328h3v1h-3zM697 329h5v1h-5zM702 330h4v1h-4zM706 331h5v1h-5zM711 332h4v1h-4zM715 333h5v1h-5zM720 334h4v1h-4zM724 335h4v1h-4zM728 336h4v1h-4zM732 337h4v1h-4zM736 338h4v1h-4zM740 339h4v1h-4zM744 340h4v1h-4zM748 341h5v1h-5zM753 342h5v1h-5zM758 343h5v1h-5zM763 344h5v1h-5zM768 345h5v1h-5zM773 346h5v1h-5zM778 347h4v1h-4zM782 348h5v1h-5zM787 349h4v1h-4zM791 350h5v1h-5zM796 351h4v1h-4zM800 352h5v1h-5zM1102 352h144v1h-144zM805 353h5v1h-5zM1076 353h26v1h-26zM1246 353h74v1h-74zM810 354h12v1h-12zM1054 354h22v1h-22zM1320 354h10v1h-10zM822 355h9v1h-9zM1045 355h9v1h-9zM831 356h7v1h-7zM1000 356h20v1h-20zM1039 356h6v1h-6zM838 357h8v1h-8zM994 357h6v1h-6zM1020 357h19v1h-19zM846 358h10v1h-10zM987 358h7v1h-7zM856 359h10v1h-10zM980 359h7v1h-7zM866 360h5v1h-5zM974 360h6v1h-6zM871 361h5v1h-5zM969 361h5v1h-5zM876 362h5v1h-5zM963 362h6v1h-6zM881 363h5v1h-5zM957 363h6v1h-6zM886 364h5v1h-5zM949 364h8v1h-8zM891 365h12v1h-12zM940 365h9v1h-9zM903 366h12v1h-12zM931 366h9v1h-9zM915 367h16v1h-16z" fill="#ff0000" shape-rendering="crispEdges"/>
</g>
<g id="paxis" fill="#000">
<rect x="1683" y="62" width="2" height="1" fill="#000" shape-rendering="crispEdges"/>
<text x="1688.5" y="66" font-size="10.2" textLength="33.0" lengthAdjust="spacingAndGlyphs" stroke="#000" stroke-width="0.2" >1964.40</text>
<rect x="1683" y="95" width="2" height="1" fill="#000" shape-rendering="crispEdges"/>
<text x="1688.5" y="99" font-size="10.2" textLength="33.0" lengthAdjust="spacingAndGlyphs" stroke="#000" stroke-width="0.2" >1957.00</text>
<rect x="1683" y="161" width="2" height="1" fill="#000" shape-rendering="crispEdges"/>
<text x="1688.5" y="165" font-size="10.2" textLength="33.0" lengthAdjust="spacingAndGlyphs" stroke="#000" stroke-width="0.2" >1942.40</text>
<rect x="1683" y="194" width="2" height="1" fill="#000" shape-rendering="crispEdges"/>
<text x="1688.5" y="198" font-size="10.2" textLength="33.0" lengthAdjust="spacingAndGlyphs" stroke="#000" stroke-width="0.2" >1935.20</text>
<rect x="1683" y="227" width="2" height="1" fill="#000" shape-rendering="crispEdges"/>
<text x="1688.5" y="231" font-size="10.2" textLength="33.0" lengthAdjust="spacingAndGlyphs" stroke="#000" stroke-width="0.2" >1928.00</text>
<rect x="1683" y="260" width="2" height="1" fill="#000" shape-rendering="crispEdges"/>
<text x="1688.5" y="264" font-size="10.2" textLength="33.0" lengthAdjust="spacingAndGlyphs" stroke="#000" stroke-width="0.2" >1920.60</text>
<rect x="1683" y="293" width="2" height="1" fill="#000" shape-rendering="crispEdges"/>
<text x="1688.5" y="297" font-size="10.2" textLength="33.0" lengthAdjust="spacingAndGlyphs" stroke="#000" stroke-width="0.2" >1913.40</text>
<rect x="1683" y="326" width="2" height="1" fill="#000" shape-rendering="crispEdges"/>
<text x="1688.5" y="330" font-size="10.2" textLength="33.0" lengthAdjust="spacingAndGlyphs" stroke="#000" stroke-width="0.2" >1906.00</text>
<rect x="1683" y="359" width="2" height="1" fill="#000" shape-rendering="crispEdges"/>
<text x="1688.5" y="363" font-size="10.2" textLength="33.0" lengthAdjust="spacingAndGlyphs" stroke="#000" stroke-width="0.2" >1898.80</text>
<rect x="1683" y="392" width="2" height="1" fill="#000" shape-rendering="crispEdges"/>
<text x="1688.5" y="396" font-size="10.2" textLength="33.0" lengthAdjust="spacingAndGlyphs" stroke="#000" stroke-width="0.2" >1891.40</text>
<rect x="1683" y="425" width="2" height="1" fill="#000" shape-rendering="crispEdges"/>
<text x="1688.5" y="429" font-size="10.2" textLength="33.0" lengthAdjust="spacingAndGlyphs" stroke="#000" stroke-width="0.2" >1884.20</text>
<rect x="1683" y="458" width="2" height="1" fill="#000" shape-rendering="crispEdges"/>
<text x="1688.5" y="462" font-size="10.2" textLength="33.0" lengthAdjust="spacingAndGlyphs" stroke="#000" stroke-width="0.2" >1876.80</text>
<rect x="1683" y="491" width="2" height="1" fill="#000" shape-rendering="crispEdges"/>
<text x="1688.5" y="495" font-size="10.2" textLength="33.0" lengthAdjust="spacingAndGlyphs" stroke="#000" stroke-width="0.2" >1869.60</text>
<rect x="1683" y="524" width="2" height="1" fill="#000" shape-rendering="crispEdges"/>
<text x="1688.5" y="528" font-size="10.2" textLength="33.0" lengthAdjust="spacingAndGlyphs" stroke="#000" stroke-width="0.2" >1862.40</text>
<rect x="1683" y="557" width="2" height="1" fill="#000" shape-rendering="crispEdges"/>
<text x="1688.5" y="561" font-size="10.2" textLength="33.0" lengthAdjust="spacingAndGlyphs" stroke="#000" stroke-width="0.2" >1855.00</text>
<rect x="1683" y="590" width="2" height="1" fill="#000" shape-rendering="crispEdges"/>
<text x="1688.5" y="594" font-size="10.2" textLength="33.0" lengthAdjust="spacingAndGlyphs" stroke="#000" stroke-width="0.2" >1847.80</text>
<rect x="1684" y="121" width="37" height="11" fill="#ff0000" shape-rendering="crispEdges"/>
<text x="1688.5" y="130" font-size="10.2" textLength="33.0" lengthAdjust="spacingAndGlyphs" fill="#fff" stroke="#fff" stroke-width="0.2" >1950.00</text>
<rect x="1684" y="302" width="37" height="11" fill="#ff0000" shape-rendering="crispEdges"/>
<text x="1688.5" y="311" font-size="10.2" textLength="33.0" lengthAdjust="spacingAndGlyphs" fill="#fff" stroke="#fff" stroke-width="0.2" >1910.00</text>
<rect x="1684" y="431" width="37" height="11" fill="#000000" shape-rendering="crispEdges"/>
<text x="1688.5" y="440" font-size="10.2" textLength="33.0" lengthAdjust="spacingAndGlyphs" fill="#fff" stroke="#fff" stroke-width="0.2" >1881.77</text>
<rect x="1684" y="506" width="37" height="11" fill="#32cd32" shape-rendering="crispEdges"/>
<text x="1688.5" y="515" font-size="10.2" textLength="33.0" lengthAdjust="spacingAndGlyphs" fill="#fff" stroke="#fff" stroke-width="0.2" >1865.00</text>
</g>
<g fill="#000">
<path d="M5 37h7l-3.5 4z" fill="#000"/>
<text x="16.3" y="42" font-size="10.2" textLength="57.8" lengthAdjust="spacingAndGlyphs" stroke="#000" stroke-width="0.2" >XAUUSD-,H4</text>
<text x="80" y="42" font-size="10.2" textLength="33.0" lengthAdjust="spacingAndGlyphs" stroke="#000" stroke-width="0.2" >1882.28</text>
<text x="116.3" y="42" font-size="10.2" textLength="33.0" lengthAdjust="spacingAndGlyphs" stroke="#000" stroke-width="0.2" >1883.10</text>
<text x="152.3" y="42" font-size="10.2" textLength="33.0" lengthAdjust="spacingAndGlyphs" stroke="#000" stroke-width="0.2" >1881.29</text>
<text x="188.3" y="42" font-size="10.2" textLength="33.0" lengthAdjust="spacingAndGlyphs" stroke="#000" stroke-width="0.2" >1881.77</text>
<text x="6.2" y="608" font-size="10.2" textLength="123.5" lengthAdjust="spacingAndGlyphs" stroke="#000" stroke-width="0.2" >MACD(12,26,9) -0.287 -0.058</text>
<text x="6.2" y="769" font-size="10.2" textLength="67.0" lengthAdjust="spacingAndGlyphs" stroke="#000" stroke-width="0.2" >RSI(14) 46.8811</text>
</g>
<path d="M1339.5 31h10l-5 5.5z" fill="#708090"/>
<g id="macd">
<g shape-rendering="crispEdges" fill="#c0c0c0">
<rect x="2" y="671" width="1" height="13"/>
<rect x="10" y="665" width="1" height="19"/>
<rect x="18" y="656" width="1" height="28"/>
<rect x="26" y="650" width="1" height="34"/>
<rect x="34" y="646" width="1" height="38"/>
<rect x="42" y="644" width="1" height="40"/>
<rect x="50" y="643" width="1" height="41"/>
<rect x="58" y="644" width="1" height="40"/>
<rect x="66" y="644" width="1" height="40"/>
<rect x="74" y="645" width="1" height="39"/>
<rect x="82" y="651" width="1" height="33"/>
<rect x="90" y="653" width="1" height="31"/>
<rect x="98" y="654" width="1" height="30"/>
<rect x="106" y="666" width="1" height="18"/>
<rect x="114" y="676" width="1" height="8"/>
<rect x="122" y="683" width="1" height="1"/>
<rect x="130" y="683" width="1" height="5"/>
<rect x="138" y="683" width="1" height="9"/>
<rect x="146" y="683" width="1" height="10"/>
<rect x="154" y="683" width="1" height="10"/>
<rect x="162" y="683" width="1" height="11"/>
<rect x="170" y="683" width="1" height="12"/>
<rect x="178" y="683" width="1" height="13"/>
<rect x="186" y="683" width="1" height="12"/>
<rect x="194" y="683" width="1" height="15"/>
<rect x="202" y="683" width="1" height="13"/>
<rect x="210" y="683" width="1" height="10"/>
<rect x="218" y="683" width="1" height="7"/>
<rect x="226" y="683" width="1" height="5"/>
<rect x="234" y="683" width="1" height="3"/>
<rect x="242" y="683" width="1" height="2"/>
<rect x="250" y="683" width="1" height="2"/>
<rect x="258" y="683" width="1" height="2"/>
<rect x="266" y="683" width="1" height="3"/>
<rect x="274" y="683" width="1" height="3"/>
<rect x="282" y="683" width="1" height="2"/>
<rect x="290" y="681" width="1" height="3"/>
<rect x="298" y="680" width="1" height="4"/>
<rect x="306" y="683" width="1" height="1"/>
<rect x="314" y="683" width="1" height="1"/>
<rect x="322" y="683" width="1" height="2"/>
<rect x="330" y="683" width="1" height="3"/>
<rect x="338" y="683" width="1" height="2"/>
<rect x="346" y="682" width="1" height="2"/>
<rect x="354" y="681" width="1" height="3"/>
<rect x="362" y="679" width="1" height="5"/>
<rect x="370" y="675" width="1" height="9"/>
<rect x="378" y="671" width="1" height="13"/>
<rect x="386" y="670" width="1" height="14"/>
<rect x="394" y="665" width="1" height="19"/>
<rect x="402" y="662" width="1" height="22"/>
<rect x="410" y="662" width="1" height="22"/>
<rect x="418" y="664" width="1" height="20"/>
<rect x="426" y="664" width="1" height="20"/>
<rect x="434" y="666" width="1" height="18"/>
<rect x="442" y="674" width="1" height="10"/>
<rect x="450" y="677" width="1" height="7"/>
<rect x="458" y="681" width="1" height="3"/>
<rect x="466" y="683" width="1" height="1"/>
<rect x="474" y="683" width="1" height="1"/>
<rect x="482" y="683" width="1" height="1"/>
<rect x="490" y="683" width="1" height="5"/>
<rect x="498" y="683" width="1" height="7"/>
<rect x="506" y="683" width="1" height="9"/>
<rect x="514" y="683" width="1" height="12"/>
<rect x="522" y="683" width="1" height="13"/>
<rect x="530" y="683" width="1" height="12"/>
<rect x="538" y="683" width="1" height="11"/>
<rect x="546" y="683" width="1" height="11"/>
<rect x="554" y="683" width="1" height="10"/>
<rect x="562" y="683" width="1" height="9"/>
<rect x="570" y="683" width="1" height="8"/>
<rect x="578" y="683" width="1" height="8"/>
<rect x="586" y="683" width="1" height="6"/>
<rect x="594" y="683" width="1" height="4"/>
<rect x="602" y="683" width="1" height="4"/>
<rect x="610" y="683" width="1" height="3"/>
<rect x="618" y="683" width="1" height="3"/>
<rect x="626" y="683" width="1" height="6"/>
<rect x="634" y="683" width="1" height="15"/>
<rect x="642" y="683" width="1" height="23"/>
<rect x="650" y="683" width="1" height="28"/>
<rect x="658" y="683" width="1" height="31"/>
<rect x="666" y="683" width="1" height="32"/>
<rect x="674" y="683" width="1" height="37"/>
<rect x="682" y="683" width="1" height="42"/>
<rect x="690" y="683" width="1" height="45"/>
<rect x="698" y="683" width="1" height="47"/>
<rect x="706" y="683" width="1" height="45"/>
<rect x="714" y="683" width="1" height="45"/>
<rect x="722" y="683" width="1" height="41"/>
<rect x="730" y="683" width="1" height="37"/>
<rect x="738" y="683" width="1" height="34"/>
<rect x="746" y="683" width="1" height="32"/>
<rect x="754" y="683" width="1" height="28"/>
<rect x="762" y="683" width="1" height="24"/>
<rect x="770" y="683" width="1" height="19"/>
<rect x="778" y="683" width="1" height="14"/>
<rect x="786" y="683" width="1" height="9"/>
<rect x="794" y="683" width="1" height="4"/>
<rect x="802" y="683" width="1" height="2"/>
<rect x="810" y="683" width="1" height="1"/>
<rect x="818" y="679" width="1" height="5"/>
<rect x="826" y="672" width="1" height="12"/>
<rect x="834" y="668" width="1" height="16"/>
<rect x="842" y="661" width="1" height="23"/>
<rect x="850" y="663" width="1" height="21"/>
<rect x="858" y="667" width="1" height="17"/>
<rect x="866" y="666" width="1" height="18"/>
<rect x="874" y="665" width="1" height="19"/>
<rect x="882" y="666" width="1" height="18"/>
<rect x="890" y="665" width="1" height="19"/>
<rect x="898" y="663" width="1" height="21"/>
<rect x="906" y="661" width="1" height="23"/>
<rect x="914" y="656" width="1" height="28"/>
<rect x="922" y="643" width="1" height="41"/>
<rect x="930" y="631" width="1" height="53"/>
<rect x="938" y="624" width="1" height="60"/>
<rect x="946" y="622" width="1" height="62"/>
<rect x="954" y="617" width="1" height="67"/>
<rect x="962" y="612" width="1" height="72"/>
<rect x="970" y="611" width="1" height="73"/>
<rect x="978" y="609" width="1" height="75"/>
<rect x="986" y="607" width="1" height="77"/>
<rect x="994" y="605" width="1" height="79"/>
<rect x="1002" y="605" width="1" height="79"/>
<rect x="1010" y="614" width="1" height="70"/>
<rect x="1018" y="651" width="1" height="33"/>
<rect x="1026" y="678" width="1" height="6"/>
<rect x="1034" y="683" width="1" height="15"/>
<rect x="1042" y="683" width="1" height="27"/>
<rect x="1050" y="683" width="1" height="34"/>
<rect x="1058" y="683" width="1" height="41"/>
<rect x="1066" y="683" width="1" height="46"/>
<rect x="1074" y="683" width="1" height="50"/>
<rect x="1082" y="683" width="1" height="54"/>
<rect x="1090" y="683" width="1" height="54"/>
<rect x="1098" y="683" width="1" height="55"/>
<rect x="1106" y="683" width="1" height="56"/>
<rect x="1114" y="683" width="1" height="61"/>
<rect x="1122" y="683" width="1" height="64"/>
<rect x="1130" y="683" width="1" height="64"/>
<rect x="1138" y="683" width="1" height="62"/>
<rect x="1146" y="683" width="1" height="60"/>
<rect x="1154" y="683" width="1" height="58"/>
<rect x="1162" y="683" width="1" height="52"/>
<rect x="1170" y="683" width="1" height="48"/>
<rect x="1178" y="683" width="1" height="44"/>
<rect x="1186" y="683" width="1" height="41"/>
<rect x="1194" y="683" width="1" height="36"/>
<rect x="1202" y="683" width="1" height="33"/>
<rect x="1210" y="683" width="1" height="24"/>
<rect x="1218" y="683" width="1" height="20"/>
<rect x="1226" y="683" width="1" height="15"/>
<rect x="1234" y="683" width="1" height="8"/>
<rect x="1242" y="683" width="1" height="5"/>
<rect x="1250" y="683" width="1" height="10"/>
<rect x="1258" y="683" width="1" height="7"/>
<rect x="1266" y="683" width="1" height="5"/>
<rect x="1274" y="683" width="1" height="3"/>
<rect x="1282" y="683" width="1" height="2"/>
<rect x="1290" y="683" width="1" height="1"/>
<rect x="1298" y="682" width="1" height="2"/>
<rect x="1306" y="681" width="1" height="3"/>
<rect x="1314" y="682" width="1" height="2"/>
<rect x="1322" y="683" width="1" height="1"/>
<rect x="1330" y="683" width="1" height="1"/>
</g>
<path d="M1009 610h3v1h-3zM1003 611h3v1h-3zM1015 612h1v1h-1zM997 613h3v1h-3zM1016 613h2v1h-2zM993 614h1v1h-1zM991 615h2v1h-2zM1021 616h2v1h-2zM1023 617h1v1h-1zM986 618h2v1h-2zM985 619h1v1h-1zM1027 620h1v2h-1zM980 622h2v1h-2zM1028 622h1v1h-1zM979 623h1v1h-1zM975 626h1v1h-1zM1031 626h1v1h-1zM974 627h1v1h-1zM1032 627h1v1h-1zM973 628h1v1h-1zM1033 628h1v1h-1zM968 631h2v1h-2zM967 632h1v1h-1zM1036 632h1v1h-1zM1037 633h1v2h-1zM963 634h1v1h-1zM962 635h1v1h-1zM961 636h1v1h-1zM1040 638h1v1h-1zM956 639h2v1h-2zM1041 639h1v1h-1zM955 640h1v1h-1zM1042 640h1v1h-1zM951 643h1v1h-1zM950 644h1v1h-1zM1044 644h1v1h-1zM949 645h1v1h-1zM1045 645h1v1h-1zM79 646h3v1h-3zM85 646h3v1h-3zM91 646h3v1h-3zM97 646h3v1h-3zM1046 646h1v1h-1zM73 647h3v1h-3zM103 647h1v1h-1zM104 648h2v1h-2zM944 648h2v1h-2zM67 649h3v1h-3zM943 649h1v1h-1zM109 650h2v1h-2zM1048 650h1v1h-1zM63 651h1v1h-1zM111 651h1v1h-1zM938 651h2v1h-2zM1049 651h1v1h-1zM61 652h2v1h-2zM937 652h1v1h-1zM1050 652h1v1h-1zM115 653h2v1h-2zM117 654h1v1h-1zM932 654h2v1h-2zM56 655h2v1h-2zM931 655h1v1h-1zM55 656h1v1h-1zM121 656h2v1h-2zM1052 656h1v2h-1zM123 657h1v1h-1zM926 657h2v1h-2zM50 658h2v1h-2zM925 658h1v1h-1zM1053 658h1v1h-1zM49 659h1v1h-1zM127 659h1v1h-1zM128 660h2v1h-2zM921 660h1v1h-1zM919 661h2v1h-2zM45 662h1v1h-1zM915 662h1v1h-1zM1055 662h1v1h-1zM43 663h2v1h-2zM133 663h2v1h-2zM901 663h3v1h-3zM907 663h3v1h-3zM913 663h2v1h-2zM1056 663h1v2h-1zM135 664h1v1h-1zM895 664h3v1h-3zM889 665h3v1h-3zM39 666h1v1h-1zM433 666h3v1h-3zM439 666h3v1h-3zM445 666h3v1h-3zM451 666h3v1h-3zM457 666h3v1h-3zM883 666h3v1h-3zM38 667h1v1h-1zM139 667h2v1h-2zM427 667h3v1h-3zM877 667h3v1h-3zM37 668h1v1h-1zM141 668h1v1h-1zM421 668h3v1h-3zM463 668h2v1h-2zM872 668h2v1h-2zM1059 668h1v2h-1zM416 669h2v1h-2zM465 669h1v1h-1zM871 669h1v1h-1zM415 670h1v1h-1zM469 670h2v1h-2zM865 670h3v1h-3zM1060 670h1v1h-1zM32 671h2v1h-2zM145 671h1v1h-1zM409 671h3v1h-3zM471 671h1v1h-1zM31 672h1v1h-1zM146 672h1v1h-1zM405 672h1v1h-1zM475 672h2v1h-2zM860 672h2v1h-2zM147 673h1v1h-1zM403 673h2v1h-2zM477 673h1v1h-1zM859 673h1v1h-1zM27 674h1v1h-1zM398 674h2v1h-2zM481 674h3v1h-3zM854 674h2v1h-2zM1063 674h1v2h-1zM25 675h2v1h-2zM151 675h1v1h-1zM397 675h1v1h-1zM853 675h1v1h-1zM152 676h2v1h-2zM392 676h2v1h-2zM487 676h2v1h-2zM848 676h2v1h-2zM1064 676h1v1h-1zM391 677h1v1h-1zM489 677h1v1h-1zM847 677h1v1h-1zM21 678h1v1h-1zM157 678h1v1h-1zM385 678h3v1h-3zM493 678h3v1h-3zM843 678h1v1h-1zM19 679h2v1h-2zM158 679h1v1h-1zM380 679h2v1h-2zM499 679h1v1h-1zM841 679h2v1h-2zM159 680h1v1h-1zM373 680h3v1h-3zM379 680h1v1h-1zM500 680h2v1h-2zM1066 680h1v1h-1zM367 681h3v1h-3zM505 681h2v1h-2zM1067 681h1v2h-1zM14 682h2v1h-2zM163 682h1v1h-1zM343 682h3v1h-3zM349 682h3v1h-3zM355 682h3v1h-3zM361 682h3v1h-3zM507 682h1v1h-1zM836 682h2v1h-2zM13 683h1v1h-1zM164 683h2v1h-2zM295 683h3v1h-3zM301 683h3v1h-3zM307 683h3v1h-3zM313 683h3v1h-3zM319 683h3v1h-3zM325 683h3v1h-3zM331 683h3v1h-3zM337 683h3v1h-3zM511 683h1v1h-1zM835 683h1v1h-1zM1322 683h3v1h-3zM1328 683h3v1h-3zM289 684h3v1h-3zM512 684h2v1h-2zM1317 684h2v1h-2zM8 685h2v1h-2zM169 685h1v1h-1zM283 685h3v1h-3zM831 685h1v1h-1zM1304 685h3v1h-3zM1310 685h3v1h-3zM1316 685h1v1h-1zM7 686h1v1h-1zM170 686h2v1h-2zM271 686h3v1h-3zM277 686h3v1h-3zM517 686h3v1h-3zM829 686h2v1h-2zM1069 686h1v1h-1zM1298 686h3v1h-3zM265 687h3v1h-3zM523 687h3v1h-3zM1070 687h1v2h-1zM1292 687h3v1h-3zM3 688h1v1h-1zM175 688h2v1h-2zM253 688h3v1h-3zM259 688h3v1h-3zM529 688h3v1h-3zM613 688h3v1h-3zM619 688h3v1h-3zM625 688h3v1h-3zM631 688h2v1h-2zM1287 688h2v1h-2zM1 689h2v1h-2zM177 689h1v1h-1zM247 689h3v1h-3zM535 689h3v1h-3zM607 689h3v1h-3zM633 689h1v1h-1zM637 689h2v1h-2zM824 689h2v1h-2zM1282 689h1v1h-1zM1286 689h1v1h-1zM181 690h3v1h-3zM242 690h2v1h-2zM541 690h3v1h-3zM601 690h3v1h-3zM639 690h1v1h-1zM643 690h1v1h-1zM823 690h1v1h-1zM1280 690h2v1h-2zM187 691h3v1h-3zM237 691h1v1h-1zM241 691h1v1h-1zM547 691h3v1h-3zM591 691h1v1h-1zM595 691h3v1h-3zM644 691h2v1h-2zM229 692h3v1h-3zM235 692h2v1h-2zM553 692h3v1h-3zM559 692h3v1h-3zM565 692h3v1h-3zM583 692h3v1h-3zM589 692h2v1h-2zM649 692h3v1h-3zM819 692h1v1h-1zM1072 692h1v1h-1zM1276 692h1v1h-1zM193 693h3v1h-3zM211 693h3v1h-3zM217 693h3v1h-3zM223 693h3v1h-3zM571 693h3v1h-3zM577 693h3v1h-3zM818 693h1v1h-1zM1073 693h1v1h-1zM1274 693h2v1h-2zM199 694h3v1h-3zM205 694h3v1h-3zM655 694h2v1h-2zM817 694h1v1h-1zM1074 694h1v1h-1zM1270 694h1v1h-1zM657 695h1v1h-1zM1268 695h2v1h-2zM661 696h2v1h-2zM812 696h2v1h-2zM1264 696h1v1h-1zM663 697h1v1h-1zM811 697h1v1h-1zM1262 697h2v1h-2zM667 698h1v1h-1zM806 698h2v1h-2zM1076 698h1v1h-1zM668 699h2v1h-2zM805 699h1v1h-1zM1077 699h1v2h-1zM1258 699h1v1h-1zM801 700h1v1h-1zM1256 700h2v1h-2zM673 701h1v1h-1zM799 701h2v1h-2zM1252 701h1v1h-1zM674 702h2v1h-2zM1250 702h2v1h-2zM795 703h1v1h-1zM679 704h1v1h-1zM793 704h2v1h-2zM1080 704h1v2h-1zM1246 704h1v1h-1zM680 705h2v1h-2zM1244 705h2v1h-2zM1081 706h1v1h-1zM789 707h1v1h-1zM1240 707h1v1h-1zM685 708h2v1h-2zM787 708h2v1h-2zM1239 708h1v1h-1zM687 709h1v1h-1zM1238 709h1v1h-1zM1084 710h1v1h-1zM691 711h1v1h-1zM781 711h3v1h-3zM1085 711h1v2h-1zM692 712h2v1h-2zM1234 712h1v1h-1zM777 713h1v1h-1zM1232 713h2v1h-2zM775 714h2v1h-2zM697 715h2v1h-2zM771 715h1v1h-1zM699 716h1v1h-1zM769 716h2v1h-2zM1088 716h1v1h-1zM1227 716h2v1h-2zM703 717h1v1h-1zM1089 717h1v1h-1zM1226 717h1v1h-1zM704 718h2v1h-2zM763 718h3v1h-3zM1090 718h1v1h-1zM709 719h1v1h-1zM1222 719h1v1h-1zM710 720h2v1h-2zM757 720h3v1h-3zM1220 720h2v1h-2zM715 721h3v1h-3zM721 721h1v1h-1zM752 721h2v1h-2zM1094 721h1v1h-1zM722 722h2v1h-2zM727 722h1v1h-1zM747 722h1v1h-1zM751 722h1v1h-1zM1095 722h2v1h-2zM1216 722h1v1h-1zM728 723h2v1h-2zM733 723h3v1h-3zM739 723h3v1h-3zM745 723h2v1h-2zM1214 723h2v1h-2zM1100 725h2v1h-2zM1210 725h1v1h-1zM1102 726h1v1h-1zM1208 726h2v1h-2zM1106 728h2v1h-2zM1204 728h1v1h-1zM1108 729h1v1h-1zM1202 729h2v1h-2zM1112 731h2v1h-2zM1198 731h1v1h-1zM1114 732h1v1h-1zM1196 732h2v1h-2zM1118 733h1v1h-1zM1119 734h2v1h-2zM1192 734h1v1h-1zM1190 735h2v1h-2zM1124 736h2v1h-2zM1126 737h1v1h-1zM1185 737h2v1h-2zM1130 738h3v1h-3zM1180 738h1v1h-1zM1184 738h1v1h-1zM1136 739h1v1h-1zM1172 739h3v1h-3zM1178 739h2v1h-2zM1137 740h2v1h-2zM1142 740h1v1h-1zM1166 740h3v1h-3zM1143 741h2v1h-2zM1148 741h3v1h-3zM1154 741h3v1h-3zM1160 741h3v1h-3z" fill="#ff0000" shape-rendering="crispEdges"/>
<g fill="#000">
<text x="1686.3" y="606" font-size="10.2" textLength="28.2" lengthAdjust="spacingAndGlyphs" stroke="#000" stroke-width="0.2" >17.967</text>
<text x="1686.3" y="687" font-size="10.2" textLength="18.0" lengthAdjust="spacingAndGlyphs" stroke="#000" stroke-width="0.2" >0.00</text>
<text x="1686.3" y="751" font-size="10.2" textLength="31.3" lengthAdjust="spacingAndGlyphs" stroke="#000" stroke-width="0.2" >-14.796</text>
<rect x="1683" y="597" width="1" height="1" shape-rendering="crispEdges"/>
<rect x="1683" y="683" width="1" height="1" shape-rendering="crispEdges"/>
<rect x="1683" y="753" width="1" height="1" shape-rendering="crispEdges"/>
<rect x="1683" y="758" width="1" height="1" shape-rendering="crispEdges"/>
<rect x="1683" y="871" width="1" height="1" shape-rendering="crispEdges"/>
</g></g>
<g id="rsi">
<line x1="3" y1="792.5" x2="1681" y2="792.5" stroke="#c0c0c0" stroke-width="1" stroke-dasharray="3 3" shape-rendering="crispEdges"/>
<line x1="3" y1="837.5" x2="1681" y2="837.5" stroke="#c0c0c0" stroke-width="1" stroke-dasharray="3 3" shape-rendering="crispEdges"/>
<path d="M926 784h6v1h-6zM922 785h4v1h-4zM932 785h3v1h-3zM921 786h1v1h-1zM935 786h2v1h-2zM920 787h1v2h-1zM937 787h2v1h-2zM939 788h1v1h-1zM961 788h2v1h-2zM919 789h1v1h-1zM940 789h1v1h-1zM958 789h3v1h-3zM963 789h1v1h-1zM918 790h1v1h-1zM941 790h1v1h-1zM956 790h2v1h-2zM964 790h1v1h-1zM990 790h6v1h-6zM18 791h11v1h-11zM842 791h1v3h-1zM917 791h1v2h-1zM942 791h1v1h-1zM953 791h3v1h-3zM965 791h2v1h-2zM984 791h6v1h-6zM996 791h3v1h-3zM16 792h2v1h-2zM29 792h2v1h-2zM840 792h2v1h-2zM943 792h1v1h-1zM951 792h2v1h-2zM967 792h1v1h-1zM980 792h4v1h-4zM999 792h2v1h-2zM14 793h2v1h-2zM31 793h3v1h-3zM838 793h2v1h-2zM916 793h1v1h-1zM944 793h1v1h-1zM949 793h2v1h-2zM968 793h1v1h-1zM976 793h4v1h-4zM1001 793h2v1h-2zM12 794h2v1h-2zM34 794h5v1h-5zM837 794h1v1h-1zM843 794h1v2h-1zM915 794h1v2h-1zM945 794h1v1h-1zM947 794h2v1h-2zM969 794h1v1h-1zM972 794h4v1h-4zM1002 794h1v1h-1zM10 795h2v1h-2zM39 795h6v1h-6zM826 795h5v1h-5zM835 795h2v1h-2zM946 795h1v1h-1zM970 795h2v1h-2zM1003 795h1v2h-1zM9 796h1v1h-1zM45 796h4v1h-4zM825 796h1v1h-1zM831 796h4v1h-4zM844 796h1v3h-1zM914 796h1v1h-1zM7 797h2v1h-2zM49 797h4v1h-4zM72 797h3v1h-3zM394 797h5v1h-5zM824 797h1v1h-1zM912 797h2v1h-2zM1004 797h1v2h-1zM5 798h2v1h-2zM53 798h5v1h-5zM68 798h4v1h-4zM74 798h1v1h-1zM393 798h1v1h-1zM399 798h4v1h-4zM822 798h2v1h-2zM911 798h1v1h-1zM3 799h2v1h-2zM58 799h10v1h-10zM75 799h1v2h-1zM376 799h3v1h-3zM392 799h1v1h-1zM403 799h2v1h-2zM821 799h1v1h-1zM845 799h1v2h-1zM910 799h1v1h-1zM1005 799h1v2h-1zM2 800h1v1h-1zM372 800h4v1h-4zM379 800h2v1h-2zM391 800h1v1h-1zM405 800h2v1h-2zM820 800h1v1h-1zM908 800h2v1h-2zM76 801h1v2h-1zM370 801h2v1h-2zM381 801h1v1h-1zM390 801h1v1h-1zM407 801h1v1h-1zM819 801h1v1h-1zM846 801h1v3h-1zM907 801h1v1h-1zM1006 801h1v2h-1zM369 802h1v1h-1zM382 802h1v1h-1zM389 802h1v1h-1zM408 802h2v1h-2zM818 802h1v1h-1zM904 802h3v1h-3zM77 803h1v2h-1zM367 803h2v1h-2zM383 803h2v1h-2zM388 803h1v1h-1zM410 803h1v1h-1zM817 803h1v1h-1zM900 803h4v1h-4zM1007 803h1v2h-1zM366 804h1v1h-1zM385 804h1v1h-1zM387 804h1v1h-1zM411 804h1v1h-1zM816 804h1v1h-1zM847 804h1v2h-1zM896 804h4v1h-4zM78 805h1v2h-1zM365 805h1v1h-1zM386 805h1v1h-1zM412 805h1v1h-1zM785 805h13v1h-13zM815 805h1v1h-1zM892 805h4v1h-4zM1008 805h1v2h-1zM96 806h3v1h-3zM289 806h3v1h-3zM364 806h1v1h-1zM413 806h1v1h-1zM782 806h3v1h-3zM798 806h3v1h-3zM814 806h1v1h-1zM848 806h1v3h-1zM889 806h3v1h-3zM1233 806h3v1h-3zM79 807h1v2h-1zM92 807h4v1h-4zM98 807h1v1h-1zM286 807h3v1h-3zM292 807h1v1h-1zM363 807h1v1h-1zM414 807h1v1h-1zM426 807h1v1h-1zM779 807h3v1h-3zM801 807h3v1h-3zM813 807h1v1h-1zM869 807h7v1h-7zM887 807h2v1h-2zM1009 807h1v2h-1zM1231 807h2v1h-2zM1236 807h2v1h-2zM90 808h2v1h-2zM99 808h1v3h-1zM283 808h3v1h-3zM293 808h2v1h-2zM345 808h7v1h-7zM357 808h6v1h-6zM415 808h1v2h-1zM424 808h2v1h-2zM427 808h2v1h-2zM777 808h2v1h-2zM804 808h2v1h-2zM812 808h1v2h-1zM866 808h3v1h-3zM876 808h3v1h-3zM885 808h2v1h-2zM1210 808h2v1h-2zM1229 808h2v1h-2zM1238 808h2v1h-2zM80 809h1v2h-1zM88 809h2v1h-2zM233 809h10v1h-10zM282 809h1v1h-1zM295 809h1v1h-1zM344 809h1v1h-1zM352 809h5v1h-5zM422 809h2v1h-2zM429 809h2v1h-2zM774 809h3v1h-3zM806 809h2v1h-2zM849 809h1v2h-1zM865 809h1v1h-1zM879 809h3v1h-3zM883 809h2v1h-2zM1010 809h1v3h-1zM1209 809h1v1h-1zM1212 809h1v1h-1zM1226 809h3v1h-3zM1240 809h2v1h-2zM87 810h1v1h-1zM231 810h2v1h-2zM243 810h1v1h-1zM281 810h1v1h-1zM296 810h2v1h-2zM342 810h2v1h-2zM416 810h1v1h-1zM421 810h1v1h-1zM431 810h1v1h-1zM771 810h3v1h-3zM808 810h2v1h-2zM811 810h1v1h-1zM864 810h1v1h-1zM882 810h1v1h-1zM1208 810h1v2h-1zM1213 810h2v1h-2zM1224 810h2v1h-2zM1242 810h1v2h-1zM81 811h1v2h-1zM85 811h2v1h-2zM100 811h1v3h-1zM229 811h2v1h-2zM244 811h1v1h-1zM280 811h1v1h-1zM298 811h1v1h-1zM341 811h1v1h-1zM417 811h1v1h-1zM419 811h2v1h-2zM432 811h2v1h-2zM586 811h6v1h-6zM769 811h2v1h-2zM810 811h1v1h-1zM850 811h1v1h-1zM863 811h1v1h-1zM1215 811h1v1h-1zM1222 811h2v1h-2zM84 812h1v1h-1zM208 812h16v1h-16zM227 812h2v1h-2zM245 812h1v1h-1zM279 812h1v1h-1zM299 812h1v1h-1zM339 812h2v1h-2zM418 812h1v1h-1zM434 812h1v1h-1zM585 812h1v1h-1zM592 812h4v1h-4zM767 812h2v1h-2zM851 812h1v1h-1zM862 812h1v1h-1zM1011 812h1v4h-1zM1207 812h1v1h-1zM1216 812h2v1h-2zM1219 812h3v1h-3zM1243 812h1v2h-1zM1258 812h3v1h-3zM1272 812h13v1h-13zM82 813h2v1h-2zM204 813h4v1h-4zM224 813h3v1h-3zM246 813h1v1h-1zM278 813h1v1h-1zM300 813h1v1h-1zM338 813h1v1h-1zM435 813h1v2h-1zM562 813h2v1h-2zM584 813h1v1h-1zM596 813h3v1h-3zM608 813h8v1h-8zM765 813h2v1h-2zM852 813h2v1h-2zM861 813h1v1h-1zM1206 813h1v1h-1zM1218 813h1v1h-1zM1257 813h1v1h-1zM1261 813h4v1h-4zM1268 813h4v1h-4zM1285 813h4v1h-4zM1293 813h19v1h-19zM101 814h1v2h-1zM202 814h2v1h-2zM247 814h1v2h-1zM277 814h1v1h-1zM301 814h1v1h-1zM336 814h2v1h-2zM480 814h3v1h-3zM560 814h2v1h-2zM564 814h2v1h-2zM582 814h2v1h-2zM599 814h3v1h-3zM604 814h4v1h-4zM616 814h3v1h-3zM763 814h2v1h-2zM854 814h2v1h-2zM860 814h1v1h-1zM1205 814h1v2h-1zM1244 814h1v1h-1zM1256 814h1v2h-1zM1265 814h3v1h-3zM1289 814h4v1h-4zM1312 814h4v1h-4zM201 815h1v1h-1zM276 815h1v2h-1zM302 815h1v1h-1zM335 815h1v1h-1zM436 815h1v1h-1zM476 815h4v1h-4zM483 815h1v2h-1zM559 815h1v1h-1zM566 815h2v1h-2zM581 815h1v1h-1zM602 815h2v1h-2zM618 815h1v1h-1zM761 815h2v1h-2zM856 815h2v1h-2zM859 815h1v1h-1zM1245 815h1v2h-1zM1316 815h3v1h-3zM102 816h1v3h-1zM200 816h1v2h-1zM248 816h1v1h-1zM255 816h7v1h-7zM303 816h1v1h-1zM312 816h6v1h-6zM334 816h1v1h-1zM437 816h1v2h-1zM472 816h4v1h-4zM558 816h1v1h-1zM568 816h2v1h-2zM580 816h1v1h-1zM619 816h1v2h-1zM758 816h3v1h-3zM858 816h1v1h-1zM1012 816h1v4h-1zM1204 816h1v1h-1zM1255 816h1v2h-1zM1319 816h3v1h-3zM153 817h3v1h-3zM186 817h1v1h-1zM249 817h1v1h-1zM252 817h3v1h-3zM262 817h3v1h-3zM275 817h1v1h-1zM304 817h1v1h-1zM310 817h2v1h-2zM318 817h3v1h-3zM332 817h2v1h-2zM468 817h4v1h-4zM484 817h1v1h-1zM533 817h8v1h-8zM556 817h2v1h-2zM570 817h5v1h-5zM579 817h1v1h-1zM756 817h2v1h-2zM1203 817h1v1h-1zM1246 817h1v2h-1zM1322 817h5v1h-5zM150 818h3v1h-3zM156 818h3v1h-3zM184 818h2v1h-2zM187 818h1v1h-1zM199 818h1v1h-1zM250 818h2v1h-2zM265 818h10v1h-10zM305 818h1v1h-1zM307 818h3v1h-3zM321 818h7v1h-7zM331 818h1v1h-1zM438 818h1v1h-1zM464 818h4v1h-4zM485 818h1v1h-1zM529 818h4v1h-4zM541 818h4v1h-4zM555 818h1v1h-1zM575 818h4v1h-4zM620 818h1v2h-1zM754 818h2v1h-2zM1202 818h1v2h-1zM1254 818h1v1h-1zM1327 818h4v1h-4zM103 819h1v2h-1zM148 819h2v1h-2zM159 819h3v1h-3zM182 819h2v1h-2zM188 819h1v1h-1zM198 819h1v2h-1zM306 819h1v1h-1zM328 819h3v1h-3zM439 819h1v2h-1zM460 819h4v1h-4zM486 819h1v2h-1zM527 819h2v1h-2zM545 819h10v1h-10zM753 819h1v1h-1zM1191 819h11v1h-11zM1247 819h1v2h-1zM1253 819h1v2h-1zM146 820h2v1h-2zM162 820h6v1h-6zM181 820h1v1h-1zM189 820h1v1h-1zM449 820h11v1h-11zM497 820h3v1h-3zM525 820h2v1h-2zM621 820h1v2h-1zM751 820h2v1h-2zM1013 820h1v3h-1zM1162 820h6v1h-6zM1186 820h5v1h-5zM104 821h1v3h-1zM144 821h2v1h-2zM168 821h8v1h-8zM179 821h2v1h-2zM190 821h1v2h-1zM197 821h1v1h-1zM440 821h1v1h-1zM447 821h2v1h-2zM487 821h1v1h-1zM496 821h1v1h-1zM500 821h2v1h-2zM523 821h2v1h-2zM733 821h7v1h-7zM750 821h1v1h-1zM1160 821h2v1h-2zM1168 821h8v1h-8zM1181 821h5v1h-5zM1248 821h1v2h-1zM1252 821h1v2h-1zM142 822h2v1h-2zM176 822h3v1h-3zM196 822h1v2h-1zM441 822h1v2h-1zM445 822h2v1h-2zM488 822h1v1h-1zM494 822h2v1h-2zM502 822h2v1h-2zM520 822h3v1h-3zM622 822h1v2h-1zM725 822h8v1h-8zM740 822h3v1h-3zM748 822h2v1h-2zM1159 822h1v1h-1zM1176 822h5v1h-5zM141 823h1v1h-1zM191 823h1v1h-1zM443 823h2v1h-2zM489 823h1v2h-1zM493 823h1v1h-1zM504 823h2v1h-2zM516 823h4v1h-4zM722 823h3v1h-3zM743 823h3v1h-3zM747 823h1v1h-1zM1014 823h1v4h-1zM1158 823h1v1h-1zM1249 823h1v2h-1zM1251 823h1v1h-1zM105 824h1v2h-1zM139 824h2v1h-2zM192 824h1v1h-1zM195 824h1v1h-1zM442 824h1v1h-1zM491 824h2v1h-2zM506 824h10v1h-10zM623 824h1v2h-1zM721 824h1v1h-1zM746 824h1v1h-1zM1156 824h2v1h-2zM1250 824h1v2h-1zM128 825h11v1h-11zM193 825h2v1h-2zM490 825h1v1h-1zM720 825h1v1h-1zM1089 825h4v1h-4zM1155 825h1v1h-1zM106 826h1v1h-1zM124 826h4v1h-4zM194 826h1v1h-1zM624 826h1v2h-1zM719 826h1v1h-1zM1048 826h5v1h-5zM1064 826h5v1h-5zM1086 826h3v1h-3zM1093 826h4v1h-4zM1152 826h3v1h-3zM107 827h5v1h-5zM117 827h7v1h-7zM718 827h1v1h-1zM1015 827h1v4h-1zM1044 827h4v1h-4zM1053 827h4v1h-4zM1060 827h4v1h-4zM1069 827h4v1h-4zM1083 827h3v1h-3zM1097 827h10v1h-10zM1137 827h7v1h-7zM1148 827h4v1h-4zM112 828h5v1h-5zM625 828h1v2h-1zM717 828h1v1h-1zM1041 828h3v1h-3zM1057 828h3v1h-3zM1073 828h10v1h-10zM1107 828h2v1h-2zM1135 828h2v1h-2zM1144 828h4v1h-4zM706 829h2v1h-2zM716 829h1v2h-1zM1040 829h1v1h-1zM1109 829h1v1h-1zM1133 829h2v1h-2zM626 830h1v1h-1zM705 830h1v1h-1zM708 830h3v1h-3zM1038 830h2v1h-2zM1110 830h1v1h-1zM1131 830h2v1h-2zM627 831h1v1h-1zM704 831h1v2h-1zM711 831h3v1h-3zM715 831h1v1h-1zM1016 831h1v3h-1zM1036 831h2v1h-2zM1111 831h2v1h-2zM1125 831h6v1h-6zM628 832h2v1h-2zM714 832h1v1h-1zM1034 832h2v1h-2zM1113 832h1v1h-1zM1117 832h8v1h-8zM630 833h1v1h-1zM657 833h10v1h-10zM703 833h1v1h-1zM1031 833h3v1h-3zM1114 833h3v1h-3zM631 834h1v1h-1zM654 834h3v1h-3zM667 834h2v1h-2zM702 834h1v1h-1zM1017 834h1v4h-1zM1028 834h3v1h-3zM632 835h1v1h-1zM651 835h3v1h-3zM669 835h1v1h-1zM701 835h1v2h-1zM1025 835h3v1h-3zM633 836h1v1h-1zM649 836h2v1h-2zM670 836h2v1h-2zM1022 836h3v1h-3zM634 837h2v1h-2zM647 837h2v1h-2zM672 837h1v1h-1zM700 837h1v1h-1zM1019 837h3v1h-3zM636 838h3v1h-3zM645 838h2v1h-2zM673 838h2v1h-2zM699 838h1v1h-1zM1018 838h1v1h-1zM639 839h2v1h-2zM644 839h1v1h-1zM675 839h2v1h-2zM698 839h1v2h-1zM641 840h3v1h-3zM677 840h2v1h-2zM689 840h9v1h-9zM679 841h3v1h-3zM684 841h5v1h-5zM682 842h2v1h-2z" fill="#1e90ff" shape-rendering="crispEdges"/>
<g fill="#000">
<text x="1686.3" y="767" font-size="10.2" textLength="15.4" lengthAdjust="spacingAndGlyphs" stroke="#000" stroke-width="0.2" >100</text>
<text x="1686.3" y="796" font-size="10.2" textLength="10.3" lengthAdjust="spacingAndGlyphs" stroke="#000" stroke-width="0.2" >70</text>
<text x="1686.3" y="841" font-size="10.2" textLength="10.3" lengthAdjust="spacingAndGlyphs" stroke="#000" stroke-width="0.2" >30</text>
<text x="1686.3" y="869" font-size="10.2" textLength="5.1" lengthAdjust="spacingAndGlyphs" stroke="#000" stroke-width="0.2" >0</text>
</g></g>
<g id="taxis" fill="#000">
<rect x="2" y="873" width="1" height="3" shape-rendering="crispEdges"/>
<text x="1.7" y="885" font-size="10.2" textLength="45.6" lengthAdjust="spacingAndGlyphs" stroke="#000" stroke-width="0.2" >9 Oct 2020</text>
<rect x="66" y="873" width="1" height="3" shape-rendering="crispEdges"/>
<text x="65.7" y="885" font-size="10.2" textLength="53.3" lengthAdjust="spacingAndGlyphs" stroke="#000" stroke-width="0.2" >12 Oct 16:00</text>
<rect x="130" y="873" width="1" height="3" shape-rendering="crispEdges"/>
<text x="129.7" y="885" font-size="10.2" textLength="53.3" lengthAdjust="spacingAndGlyphs" stroke="#000" stroke-width="0.2" >14 Oct 00:00</text>
<rect x="194" y="873" width="1" height="3" shape-rendering="crispEdges"/>
<text x="193.7" y="885" font-size="10.2" textLength="53.3" lengthAdjust="spacingAndGlyphs" stroke="#000" stroke-width="0.2" >15 Oct 08:00</text>
<rect x="258" y="873" width="1" height="3" shape-rendering="crispEdges"/>
<text x="257.7" y="885" font-size="10.2" textLength="53.3" lengthAdjust="spacingAndGlyphs" stroke="#000" stroke-width="0.2" >16 Oct 16:00</text>
<rect x="322" y="873" width="1" height="3" shape-rendering="crispEdges"/>
<text x="321.7" y="885" font-size="10.2" textLength="53.3" lengthAdjust="spacingAndGlyphs" stroke="#000" stroke-width="0.2" >20 Oct 00:00</text>
<rect x="386" y="873" width="1" height="3" shape-rendering="crispEdges"/>
<text x="385.7" y="885" font-size="10.2" textLength="53.3" lengthAdjust="spacingAndGlyphs" stroke="#000" stroke-width="0.2" >21 Oct 08:00</text>
<rect x="450" y="873" width="1" height="3" shape-rendering="crispEdges"/>
<text x="449.7" y="885" font-size="10.2" textLength="53.3" lengthAdjust="spacingAndGlyphs" stroke="#000" stroke-width="0.2" >22 Oct 16:00</text>
<rect x="514" y="873" width="1" height="3" shape-rendering="crispEdges"/>
<text x="513.7" y="885" font-size="10.2" textLength="53.3" lengthAdjust="spacingAndGlyphs" stroke="#000" stroke-width="0.2" >26 Oct 00:00</text>
<rect x="578" y="873" width="1" height="3" shape-rendering="crispEdges"/>
<text x="577.7" y="885" font-size="10.2" textLength="53.3" lengthAdjust="spacingAndGlyphs" stroke="#000" stroke-width="0.2" >27 Oct 08:00</text>
<rect x="642" y="873" width="1" height="3" shape-rendering="crispEdges"/>
<text x="641.7" y="885" font-size="10.2" textLength="53.3" lengthAdjust="spacingAndGlyphs" stroke="#000" stroke-width="0.2" >28 Oct 16:00</text>
<rect x="706" y="873" width="1" height="3" shape-rendering="crispEdges"/>
<text x="705.7" y="885" font-size="10.2" textLength="53.3" lengthAdjust="spacingAndGlyphs" stroke="#000" stroke-width="0.2" >30 Oct 00:00</text>
<rect x="770" y="873" width="1" height="3" shape-rendering="crispEdges"/>
<text x="769.7" y="885" font-size="10.2" textLength="50.2" lengthAdjust="spacingAndGlyphs" stroke="#000" stroke-width="0.2" >2 Nov 08:00</text>
<rect x="834" y="873" width="1" height="3" shape-rendering="crispEdges"/>
<text x="833.7" y="885" font-size="10.2" textLength="50.2" lengthAdjust="spacingAndGlyphs" stroke="#000" stroke-width="0.2" >3 Nov 16:00</text>
<rect x="898" y="873" width="1" height="3" shape-rendering="crispEdges"/>
<text x="897.7" y="885" font-size="10.2" textLength="50.2" lengthAdjust="spacingAndGlyphs" stroke="#000" stroke-width="0.2" >5 Nov 00:00</text>
<rect x="962" y="873" width="1" height="3" shape-rendering="crispEdges"/>
<text x="961.7" y="885" font-size="10.2" textLength="50.2" lengthAdjust="spacingAndGlyphs" stroke="#000" stroke-width="0.2" >6 Nov 08:00</text>
<rect x="1026" y="873" width="1" height="3" shape-rendering="crispEdges"/>
<text x="1025.7" y="885" font-size="10.2" textLength="50.2" lengthAdjust="spacingAndGlyphs" stroke="#000" stroke-width="0.2" >9 Nov 16:00</text>
<rect x="1090" y="873" width="1" height="3" shape-rendering="crispEdges"/>
<text x="1089.7" y="885" font-size="10.2" textLength="55.4" lengthAdjust="spacingAndGlyphs" stroke="#000" stroke-width="0.2" >11 Nov 00:00</text>
<rect x="1154" y="873" width="1" height="3" shape-rendering="crispEdges"/>
<text x="1153.7" y="885" font-size="10.2" textLength="55.4" lengthAdjust="spacingAndGlyphs" stroke="#000" stroke-width="0.2" >12 Nov 08:00</text>
<rect x="1218" y="873" width="1" height="3" shape-rendering="crispEdges"/>
<text x="1217.7" y="885" font-size="10.2" textLength="55.4" lengthAdjust="spacingAndGlyphs" stroke="#000" stroke-width="0.2" >13 Nov 16:00</text>
<rect x="1282" y="873" width="1" height="3" shape-rendering="crispEdges"/>
<text x="1281.7" y="885" font-size="10.2" textLength="55.4" lengthAdjust="spacingAndGlyphs" stroke="#000" stroke-width="0.2" >17 Nov 00:00</text>
</g>
<text x="1237.5" y="237.5" font-size="33.5" textLength="241" lengthAdjust="spacingAndGlyphs" fill="#ed1c24" style="font-family:'Liberation Sans','Noto Sans CJK SC',sans-serif">多空转折点1865</text>
</svg></body></html>
